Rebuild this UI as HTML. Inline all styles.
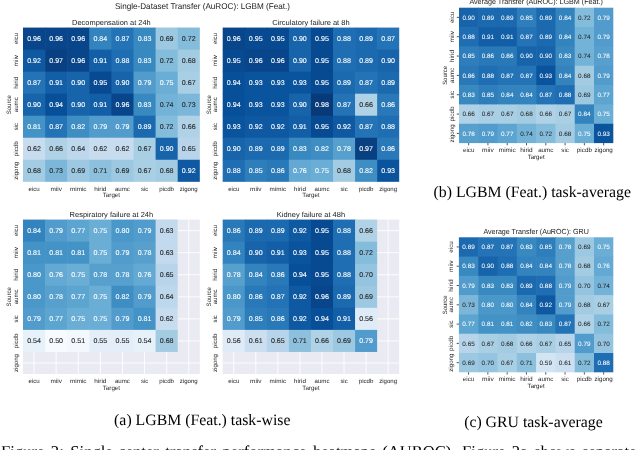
<!DOCTYPE html>
<html><head><meta charset="utf-8"><style>
html,body{margin:0;padding:0;background:#fff;width:640px;height:450px;overflow:hidden}
svg{display:block;will-change:transform}
text{font-family:"Liberation Sans", sans-serif;text-rendering:geometricPrecision}
g text{font-family:"Liberation Serif", serif}
</style></head><body>
<svg width="640" height="450" viewBox="0 0 640 450">
<rect x="23.00" y="27.60" width="176.80" height="154.20" fill="#eaeaf2"/>
<line x1="34.05" y1="27.60" x2="34.05" y2="181.80" stroke="#fff" stroke-width="0.9"/>
<line x1="56.15" y1="27.60" x2="56.15" y2="181.80" stroke="#fff" stroke-width="0.9"/>
<line x1="78.25" y1="27.60" x2="78.25" y2="181.80" stroke="#fff" stroke-width="0.9"/>
<line x1="100.35" y1="27.60" x2="100.35" y2="181.80" stroke="#fff" stroke-width="0.9"/>
<line x1="122.45" y1="27.60" x2="122.45" y2="181.80" stroke="#fff" stroke-width="0.9"/>
<line x1="144.55" y1="27.60" x2="144.55" y2="181.80" stroke="#fff" stroke-width="0.9"/>
<line x1="166.65" y1="27.60" x2="166.65" y2="181.80" stroke="#fff" stroke-width="0.9"/>
<line x1="188.75" y1="27.60" x2="188.75" y2="181.80" stroke="#fff" stroke-width="0.9"/>
<line x1="23.00" y1="38.61" x2="199.80" y2="38.61" stroke="#fff" stroke-width="0.9"/>
<line x1="23.00" y1="60.64" x2="199.80" y2="60.64" stroke="#fff" stroke-width="0.9"/>
<line x1="23.00" y1="82.67" x2="199.80" y2="82.67" stroke="#fff" stroke-width="0.9"/>
<line x1="23.00" y1="104.70" x2="199.80" y2="104.70" stroke="#fff" stroke-width="0.9"/>
<line x1="23.00" y1="126.73" x2="199.80" y2="126.73" stroke="#fff" stroke-width="0.9"/>
<line x1="23.00" y1="148.76" x2="199.80" y2="148.76" stroke="#fff" stroke-width="0.9"/>
<line x1="23.00" y1="170.79" x2="199.80" y2="170.79" stroke="#fff" stroke-width="0.9"/>
<rect x="23.00" y="27.60" width="22.70" height="22.63" fill="#08458a"/>
<rect x="45.10" y="27.60" width="22.70" height="22.63" fill="#08458a"/>
<rect x="67.20" y="27.60" width="22.70" height="22.63" fill="#08458a"/>
<rect x="89.30" y="27.60" width="22.70" height="22.63" fill="#3383be"/>
<rect x="111.40" y="27.60" width="22.70" height="22.63" fill="#2373b6"/>
<rect x="133.50" y="27.60" width="22.70" height="22.63" fill="#3989c1"/>
<rect x="155.60" y="27.60" width="22.70" height="22.63" fill="#9cc9e1"/>
<rect x="177.70" y="27.60" width="22.10" height="22.63" fill="#84bcdb"/>
<rect x="23.00" y="49.63" width="22.70" height="22.63" fill="#0e59a2"/>
<rect x="45.10" y="49.63" width="22.70" height="22.63" fill="#084082"/>
<rect x="67.20" y="49.63" width="22.70" height="22.63" fill="#08458a"/>
<rect x="89.30" y="49.63" width="22.70" height="22.63" fill="#135fa7"/>
<rect x="111.40" y="49.63" width="22.70" height="22.63" fill="#1f6eb3"/>
<rect x="133.50" y="49.63" width="22.70" height="22.63" fill="#3989c1"/>
<rect x="155.60" y="49.63" width="22.70" height="22.63" fill="#84bcdb"/>
<rect x="177.70" y="49.63" width="22.10" height="22.63" fill="#a3cce3"/>
<rect x="23.00" y="71.66" width="22.70" height="22.63" fill="#2373b6"/>
<rect x="45.10" y="71.66" width="22.70" height="22.63" fill="#135fa7"/>
<rect x="67.20" y="71.66" width="22.70" height="22.63" fill="#1764ab"/>
<rect x="89.30" y="71.66" width="22.70" height="22.63" fill="#084a91"/>
<rect x="111.40" y="71.66" width="22.70" height="22.63" fill="#1764ab"/>
<rect x="133.50" y="71.66" width="22.70" height="22.63" fill="#519ccc"/>
<rect x="155.60" y="71.66" width="22.70" height="22.63" fill="#6aaed6"/>
<rect x="177.70" y="71.66" width="22.10" height="22.63" fill="#a9cfe5"/>
<rect x="23.00" y="93.69" width="22.70" height="22.63" fill="#1764ab"/>
<rect x="45.10" y="93.69" width="22.70" height="22.63" fill="#084f99"/>
<rect x="67.20" y="93.69" width="22.70" height="22.63" fill="#1764ab"/>
<rect x="89.30" y="93.69" width="22.70" height="22.63" fill="#135fa7"/>
<rect x="111.40" y="93.69" width="22.70" height="22.63" fill="#08458a"/>
<rect x="133.50" y="93.69" width="22.70" height="22.63" fill="#3989c1"/>
<rect x="155.60" y="93.69" width="22.70" height="22.63" fill="#74b3d8"/>
<rect x="177.70" y="93.69" width="22.10" height="22.63" fill="#7cb7da"/>
<rect x="23.00" y="115.71" width="22.70" height="22.63" fill="#4493c7"/>
<rect x="45.10" y="115.71" width="22.70" height="22.63" fill="#2373b6"/>
<rect x="67.20" y="115.71" width="22.70" height="22.63" fill="#3e8ec4"/>
<rect x="89.30" y="115.71" width="22.70" height="22.63" fill="#519ccc"/>
<rect x="111.40" y="115.71" width="22.70" height="22.63" fill="#519ccc"/>
<rect x="133.50" y="115.71" width="22.70" height="22.63" fill="#1b69af"/>
<rect x="155.60" y="115.71" width="22.70" height="22.63" fill="#84bcdb"/>
<rect x="177.70" y="115.71" width="22.10" height="22.63" fill="#b0d2e7"/>
<rect x="23.00" y="137.74" width="22.70" height="22.63" fill="#c8dcf0"/>
<rect x="45.10" y="137.74" width="22.70" height="22.63" fill="#b0d2e7"/>
<rect x="67.20" y="137.74" width="22.70" height="22.63" fill="#bdd7ec"/>
<rect x="89.30" y="137.74" width="22.70" height="22.63" fill="#c8dcf0"/>
<rect x="111.40" y="137.74" width="22.70" height="22.63" fill="#c8dcf0"/>
<rect x="133.50" y="137.74" width="22.70" height="22.63" fill="#a9cfe5"/>
<rect x="155.60" y="137.74" width="22.70" height="22.63" fill="#1764ab"/>
<rect x="177.70" y="137.74" width="22.10" height="22.63" fill="#b7d4ea"/>
<rect x="23.00" y="159.77" width="22.70" height="22.03" fill="#a3cce3"/>
<rect x="45.10" y="159.77" width="22.70" height="22.03" fill="#7cb7da"/>
<rect x="67.20" y="159.77" width="22.70" height="22.03" fill="#9cc9e1"/>
<rect x="89.30" y="159.77" width="22.70" height="22.03" fill="#8cc0dd"/>
<rect x="111.40" y="159.77" width="22.70" height="22.03" fill="#9cc9e1"/>
<rect x="133.50" y="159.77" width="22.70" height="22.03" fill="#a9cfe5"/>
<rect x="155.60" y="159.77" width="22.70" height="22.03" fill="#a3cce3"/>
<rect x="177.70" y="159.77" width="22.10" height="22.03" fill="#0e59a2"/>
<text x="34.05" y="41.10" font-size="6.94" text-anchor="middle" fill="#ffffff" stroke="#ffffff" stroke-width="0.1" textLength="13.80" lengthAdjust="spacingAndGlyphs">0.96</text>
<text x="56.15" y="41.10" font-size="6.94" text-anchor="middle" fill="#ffffff" stroke="#ffffff" stroke-width="0.1" textLength="13.80" lengthAdjust="spacingAndGlyphs">0.96</text>
<text x="78.25" y="41.10" font-size="6.94" text-anchor="middle" fill="#ffffff" stroke="#ffffff" stroke-width="0.1" textLength="13.80" lengthAdjust="spacingAndGlyphs">0.96</text>
<text x="100.35" y="41.10" font-size="6.94" text-anchor="middle" fill="#ffffff" stroke="#ffffff" stroke-width="0.1" textLength="13.80" lengthAdjust="spacingAndGlyphs">0.84</text>
<text x="122.45" y="41.10" font-size="6.94" text-anchor="middle" fill="#ffffff" stroke="#ffffff" stroke-width="0.1" textLength="13.80" lengthAdjust="spacingAndGlyphs">0.87</text>
<text x="144.55" y="41.10" font-size="6.94" text-anchor="middle" fill="#ffffff" stroke="#ffffff" stroke-width="0.1" textLength="13.80" lengthAdjust="spacingAndGlyphs">0.83</text>
<text x="166.65" y="41.10" font-size="6.94" text-anchor="middle" fill="#262626" stroke="#262626" stroke-width="0.1" textLength="13.80" lengthAdjust="spacingAndGlyphs">0.69</text>
<text x="188.75" y="41.10" font-size="6.94" text-anchor="middle" fill="#262626" stroke="#262626" stroke-width="0.1" textLength="13.80" lengthAdjust="spacingAndGlyphs">0.72</text>
<text x="34.05" y="63.13" font-size="6.94" text-anchor="middle" fill="#ffffff" stroke="#ffffff" stroke-width="0.1" textLength="13.80" lengthAdjust="spacingAndGlyphs">0.92</text>
<text x="56.15" y="63.13" font-size="6.94" text-anchor="middle" fill="#ffffff" stroke="#ffffff" stroke-width="0.1" textLength="13.80" lengthAdjust="spacingAndGlyphs">0.97</text>
<text x="78.25" y="63.13" font-size="6.94" text-anchor="middle" fill="#ffffff" stroke="#ffffff" stroke-width="0.1" textLength="13.80" lengthAdjust="spacingAndGlyphs">0.96</text>
<text x="100.35" y="63.13" font-size="6.94" text-anchor="middle" fill="#ffffff" stroke="#ffffff" stroke-width="0.1" textLength="13.80" lengthAdjust="spacingAndGlyphs">0.91</text>
<text x="122.45" y="63.13" font-size="6.94" text-anchor="middle" fill="#ffffff" stroke="#ffffff" stroke-width="0.1" textLength="13.80" lengthAdjust="spacingAndGlyphs">0.88</text>
<text x="144.55" y="63.13" font-size="6.94" text-anchor="middle" fill="#ffffff" stroke="#ffffff" stroke-width="0.1" textLength="13.80" lengthAdjust="spacingAndGlyphs">0.83</text>
<text x="166.65" y="63.13" font-size="6.94" text-anchor="middle" fill="#262626" stroke="#262626" stroke-width="0.1" textLength="13.80" lengthAdjust="spacingAndGlyphs">0.72</text>
<text x="188.75" y="63.13" font-size="6.94" text-anchor="middle" fill="#262626" stroke="#262626" stroke-width="0.1" textLength="13.80" lengthAdjust="spacingAndGlyphs">0.68</text>
<text x="34.05" y="85.16" font-size="6.94" text-anchor="middle" fill="#ffffff" stroke="#ffffff" stroke-width="0.1" textLength="13.80" lengthAdjust="spacingAndGlyphs">0.87</text>
<text x="56.15" y="85.16" font-size="6.94" text-anchor="middle" fill="#ffffff" stroke="#ffffff" stroke-width="0.1" textLength="13.80" lengthAdjust="spacingAndGlyphs">0.91</text>
<text x="78.25" y="85.16" font-size="6.94" text-anchor="middle" fill="#ffffff" stroke="#ffffff" stroke-width="0.1" textLength="13.80" lengthAdjust="spacingAndGlyphs">0.90</text>
<text x="100.35" y="85.16" font-size="6.94" text-anchor="middle" fill="#ffffff" stroke="#ffffff" stroke-width="0.1" textLength="13.80" lengthAdjust="spacingAndGlyphs">0.95</text>
<text x="122.45" y="85.16" font-size="6.94" text-anchor="middle" fill="#ffffff" stroke="#ffffff" stroke-width="0.1" textLength="13.80" lengthAdjust="spacingAndGlyphs">0.90</text>
<text x="144.55" y="85.16" font-size="6.94" text-anchor="middle" fill="#ffffff" stroke="#ffffff" stroke-width="0.1" textLength="13.80" lengthAdjust="spacingAndGlyphs">0.79</text>
<text x="166.65" y="85.16" font-size="6.94" text-anchor="middle" fill="#ffffff" stroke="#ffffff" stroke-width="0.1" textLength="13.80" lengthAdjust="spacingAndGlyphs">0.75</text>
<text x="188.75" y="85.16" font-size="6.94" text-anchor="middle" fill="#262626" stroke="#262626" stroke-width="0.1" textLength="13.80" lengthAdjust="spacingAndGlyphs">0.67</text>
<text x="34.05" y="107.19" font-size="6.94" text-anchor="middle" fill="#ffffff" stroke="#ffffff" stroke-width="0.1" textLength="13.80" lengthAdjust="spacingAndGlyphs">0.90</text>
<text x="56.15" y="107.19" font-size="6.94" text-anchor="middle" fill="#ffffff" stroke="#ffffff" stroke-width="0.1" textLength="13.80" lengthAdjust="spacingAndGlyphs">0.94</text>
<text x="78.25" y="107.19" font-size="6.94" text-anchor="middle" fill="#ffffff" stroke="#ffffff" stroke-width="0.1" textLength="13.80" lengthAdjust="spacingAndGlyphs">0.90</text>
<text x="100.35" y="107.19" font-size="6.94" text-anchor="middle" fill="#ffffff" stroke="#ffffff" stroke-width="0.1" textLength="13.80" lengthAdjust="spacingAndGlyphs">0.91</text>
<text x="122.45" y="107.19" font-size="6.94" text-anchor="middle" fill="#ffffff" stroke="#ffffff" stroke-width="0.1" textLength="13.80" lengthAdjust="spacingAndGlyphs">0.96</text>
<text x="144.55" y="107.19" font-size="6.94" text-anchor="middle" fill="#ffffff" stroke="#ffffff" stroke-width="0.1" textLength="13.80" lengthAdjust="spacingAndGlyphs">0.83</text>
<text x="166.65" y="107.19" font-size="6.94" text-anchor="middle" fill="#262626" stroke="#262626" stroke-width="0.1" textLength="13.80" lengthAdjust="spacingAndGlyphs">0.74</text>
<text x="188.75" y="107.19" font-size="6.94" text-anchor="middle" fill="#262626" stroke="#262626" stroke-width="0.1" textLength="13.80" lengthAdjust="spacingAndGlyphs">0.73</text>
<text x="34.05" y="129.21" font-size="6.94" text-anchor="middle" fill="#ffffff" stroke="#ffffff" stroke-width="0.1" textLength="13.80" lengthAdjust="spacingAndGlyphs">0.81</text>
<text x="56.15" y="129.21" font-size="6.94" text-anchor="middle" fill="#ffffff" stroke="#ffffff" stroke-width="0.1" textLength="13.80" lengthAdjust="spacingAndGlyphs">0.87</text>
<text x="78.25" y="129.21" font-size="6.94" text-anchor="middle" fill="#ffffff" stroke="#ffffff" stroke-width="0.1" textLength="13.80" lengthAdjust="spacingAndGlyphs">0.82</text>
<text x="100.35" y="129.21" font-size="6.94" text-anchor="middle" fill="#ffffff" stroke="#ffffff" stroke-width="0.1" textLength="13.80" lengthAdjust="spacingAndGlyphs">0.79</text>
<text x="122.45" y="129.21" font-size="6.94" text-anchor="middle" fill="#ffffff" stroke="#ffffff" stroke-width="0.1" textLength="13.80" lengthAdjust="spacingAndGlyphs">0.79</text>
<text x="144.55" y="129.21" font-size="6.94" text-anchor="middle" fill="#ffffff" stroke="#ffffff" stroke-width="0.1" textLength="13.80" lengthAdjust="spacingAndGlyphs">0.89</text>
<text x="166.65" y="129.21" font-size="6.94" text-anchor="middle" fill="#262626" stroke="#262626" stroke-width="0.1" textLength="13.80" lengthAdjust="spacingAndGlyphs">0.72</text>
<text x="188.75" y="129.21" font-size="6.94" text-anchor="middle" fill="#262626" stroke="#262626" stroke-width="0.1" textLength="13.80" lengthAdjust="spacingAndGlyphs">0.66</text>
<text x="34.05" y="151.24" font-size="6.94" text-anchor="middle" fill="#262626" stroke="#262626" stroke-width="0.1" textLength="13.80" lengthAdjust="spacingAndGlyphs">0.62</text>
<text x="56.15" y="151.24" font-size="6.94" text-anchor="middle" fill="#262626" stroke="#262626" stroke-width="0.1" textLength="13.80" lengthAdjust="spacingAndGlyphs">0.66</text>
<text x="78.25" y="151.24" font-size="6.94" text-anchor="middle" fill="#262626" stroke="#262626" stroke-width="0.1" textLength="13.80" lengthAdjust="spacingAndGlyphs">0.64</text>
<text x="100.35" y="151.24" font-size="6.94" text-anchor="middle" fill="#262626" stroke="#262626" stroke-width="0.1" textLength="13.80" lengthAdjust="spacingAndGlyphs">0.62</text>
<text x="122.45" y="151.24" font-size="6.94" text-anchor="middle" fill="#262626" stroke="#262626" stroke-width="0.1" textLength="13.80" lengthAdjust="spacingAndGlyphs">0.62</text>
<text x="144.55" y="151.24" font-size="6.94" text-anchor="middle" fill="#262626" stroke="#262626" stroke-width="0.1" textLength="13.80" lengthAdjust="spacingAndGlyphs">0.67</text>
<text x="166.65" y="151.24" font-size="6.94" text-anchor="middle" fill="#ffffff" stroke="#ffffff" stroke-width="0.1" textLength="13.80" lengthAdjust="spacingAndGlyphs">0.90</text>
<text x="188.75" y="151.24" font-size="6.94" text-anchor="middle" fill="#262626" stroke="#262626" stroke-width="0.1" textLength="13.80" lengthAdjust="spacingAndGlyphs">0.65</text>
<text x="34.05" y="173.27" font-size="6.94" text-anchor="middle" fill="#262626" stroke="#262626" stroke-width="0.1" textLength="13.80" lengthAdjust="spacingAndGlyphs">0.68</text>
<text x="56.15" y="173.27" font-size="6.94" text-anchor="middle" fill="#262626" stroke="#262626" stroke-width="0.1" textLength="13.80" lengthAdjust="spacingAndGlyphs">0.73</text>
<text x="78.25" y="173.27" font-size="6.94" text-anchor="middle" fill="#262626" stroke="#262626" stroke-width="0.1" textLength="13.80" lengthAdjust="spacingAndGlyphs">0.69</text>
<text x="100.35" y="173.27" font-size="6.94" text-anchor="middle" fill="#262626" stroke="#262626" stroke-width="0.1" textLength="13.80" lengthAdjust="spacingAndGlyphs">0.71</text>
<text x="122.45" y="173.27" font-size="6.94" text-anchor="middle" fill="#262626" stroke="#262626" stroke-width="0.1" textLength="13.80" lengthAdjust="spacingAndGlyphs">0.69</text>
<text x="144.55" y="173.27" font-size="6.94" text-anchor="middle" fill="#262626" stroke="#262626" stroke-width="0.1" textLength="13.80" lengthAdjust="spacingAndGlyphs">0.67</text>
<text x="166.65" y="173.27" font-size="6.94" text-anchor="middle" fill="#262626" stroke="#262626" stroke-width="0.1" textLength="13.80" lengthAdjust="spacingAndGlyphs">0.68</text>
<text x="188.75" y="173.27" font-size="6.94" text-anchor="middle" fill="#ffffff" stroke="#ffffff" stroke-width="0.1" textLength="13.80" lengthAdjust="spacingAndGlyphs">0.92</text>
<text x="34.05" y="190.60" font-size="6.05" text-anchor="middle" fill="#262626" textLength="11.21" lengthAdjust="spacingAndGlyphs">eicu</text>
<text x="56.15" y="190.60" font-size="6.05" text-anchor="middle" fill="#262626" textLength="11.46" lengthAdjust="spacingAndGlyphs">miiv</text>
<text x="78.25" y="190.60" font-size="6.05" text-anchor="middle" fill="#262626" textLength="16.49" lengthAdjust="spacingAndGlyphs">mimic</text>
<text x="100.35" y="190.60" font-size="6.05" text-anchor="middle" fill="#262626" textLength="12.07" lengthAdjust="spacingAndGlyphs">hirid</text>
<text x="122.45" y="190.60" font-size="6.05" text-anchor="middle" fill="#262626" textLength="14.96" lengthAdjust="spacingAndGlyphs">aumc</text>
<text x="144.55" y="190.60" font-size="6.05" text-anchor="middle" fill="#262626" textLength="7.28" lengthAdjust="spacingAndGlyphs">sic</text>
<text x="166.65" y="190.60" font-size="6.05" text-anchor="middle" fill="#262626" textLength="14.75" lengthAdjust="spacingAndGlyphs">picdb</text>
<text x="188.75" y="190.60" font-size="6.05" text-anchor="middle" fill="#262626" textLength="17.92" lengthAdjust="spacingAndGlyphs">zigong</text>
<text x="17.80" y="38.61" font-size="6.05" text-anchor="middle" fill="#262626" transform="rotate(-90 17.80 38.61)" textLength="11.21" lengthAdjust="spacingAndGlyphs">eicu</text>
<text x="17.80" y="60.64" font-size="6.05" text-anchor="middle" fill="#262626" transform="rotate(-90 17.80 60.64)" textLength="11.46" lengthAdjust="spacingAndGlyphs">miiv</text>
<text x="17.80" y="82.67" font-size="6.05" text-anchor="middle" fill="#262626" transform="rotate(-90 17.80 82.67)" textLength="12.07" lengthAdjust="spacingAndGlyphs">hirid</text>
<text x="17.80" y="104.70" font-size="6.05" text-anchor="middle" fill="#262626" transform="rotate(-90 17.80 104.70)" textLength="14.96" lengthAdjust="spacingAndGlyphs">aumc</text>
<text x="17.80" y="126.73" font-size="6.05" text-anchor="middle" fill="#262626" transform="rotate(-90 17.80 126.73)" textLength="7.28" lengthAdjust="spacingAndGlyphs">sic</text>
<text x="17.80" y="148.76" font-size="6.05" text-anchor="middle" fill="#262626" transform="rotate(-90 17.80 148.76)" textLength="14.75" lengthAdjust="spacingAndGlyphs">picdb</text>
<text x="17.80" y="170.79" font-size="6.05" text-anchor="middle" fill="#262626" transform="rotate(-90 17.80 170.79)" textLength="17.92" lengthAdjust="spacingAndGlyphs">zigong</text>
<text x="111.40" y="197.30" font-size="6.27" text-anchor="middle" fill="#262626" textLength="17.33" lengthAdjust="spacingAndGlyphs">Target</text>
<text x="11.40" y="104.70" font-size="6.27" text-anchor="middle" fill="#262626" transform="rotate(-90 11.40 104.70)" textLength="19.23" lengthAdjust="spacingAndGlyphs">Source</text>
<text x="111.40" y="24.60" font-size="7.34" text-anchor="middle" fill="#1a1a1a" textLength="78.61" lengthAdjust="spacingAndGlyphs">Decompensation at 24h</text>
<rect x="222.70" y="27.60" width="176.50" height="154.20" fill="#eaeaf2"/>
<line x1="233.73" y1="27.60" x2="233.73" y2="181.80" stroke="#fff" stroke-width="0.9"/>
<line x1="255.79" y1="27.60" x2="255.79" y2="181.80" stroke="#fff" stroke-width="0.9"/>
<line x1="277.86" y1="27.60" x2="277.86" y2="181.80" stroke="#fff" stroke-width="0.9"/>
<line x1="299.92" y1="27.60" x2="299.92" y2="181.80" stroke="#fff" stroke-width="0.9"/>
<line x1="321.98" y1="27.60" x2="321.98" y2="181.80" stroke="#fff" stroke-width="0.9"/>
<line x1="344.04" y1="27.60" x2="344.04" y2="181.80" stroke="#fff" stroke-width="0.9"/>
<line x1="366.11" y1="27.60" x2="366.11" y2="181.80" stroke="#fff" stroke-width="0.9"/>
<line x1="388.17" y1="27.60" x2="388.17" y2="181.80" stroke="#fff" stroke-width="0.9"/>
<line x1="222.70" y1="38.61" x2="399.20" y2="38.61" stroke="#fff" stroke-width="0.9"/>
<line x1="222.70" y1="60.64" x2="399.20" y2="60.64" stroke="#fff" stroke-width="0.9"/>
<line x1="222.70" y1="82.67" x2="399.20" y2="82.67" stroke="#fff" stroke-width="0.9"/>
<line x1="222.70" y1="104.70" x2="399.20" y2="104.70" stroke="#fff" stroke-width="0.9"/>
<line x1="222.70" y1="126.73" x2="399.20" y2="126.73" stroke="#fff" stroke-width="0.9"/>
<line x1="222.70" y1="148.76" x2="399.20" y2="148.76" stroke="#fff" stroke-width="0.9"/>
<line x1="222.70" y1="170.79" x2="399.20" y2="170.79" stroke="#fff" stroke-width="0.9"/>
<rect x="222.70" y="27.60" width="22.66" height="22.63" fill="#08458a"/>
<rect x="244.76" y="27.60" width="22.66" height="22.63" fill="#084a91"/>
<rect x="266.82" y="27.60" width="22.66" height="22.63" fill="#084a91"/>
<rect x="288.89" y="27.60" width="22.66" height="22.63" fill="#1764ab"/>
<rect x="310.95" y="27.60" width="22.66" height="22.63" fill="#084a91"/>
<rect x="333.01" y="27.60" width="22.66" height="22.63" fill="#1f6eb3"/>
<rect x="355.07" y="27.60" width="22.66" height="22.63" fill="#1b69af"/>
<rect x="377.14" y="27.60" width="22.06" height="22.63" fill="#2373b6"/>
<rect x="222.70" y="49.63" width="22.66" height="22.63" fill="#084a91"/>
<rect x="244.76" y="49.63" width="22.66" height="22.63" fill="#08458a"/>
<rect x="266.82" y="49.63" width="22.66" height="22.63" fill="#08458a"/>
<rect x="288.89" y="49.63" width="22.66" height="22.63" fill="#1764ab"/>
<rect x="310.95" y="49.63" width="22.66" height="22.63" fill="#084a91"/>
<rect x="333.01" y="49.63" width="22.66" height="22.63" fill="#1f6eb3"/>
<rect x="355.07" y="49.63" width="22.66" height="22.63" fill="#1b69af"/>
<rect x="377.14" y="49.63" width="22.06" height="22.63" fill="#1764ab"/>
<rect x="222.70" y="71.66" width="22.66" height="22.63" fill="#084f99"/>
<rect x="244.76" y="71.66" width="22.66" height="22.63" fill="#0a549e"/>
<rect x="266.82" y="71.66" width="22.66" height="22.63" fill="#0a549e"/>
<rect x="288.89" y="71.66" width="22.66" height="22.63" fill="#0a549e"/>
<rect x="310.95" y="71.66" width="22.66" height="22.63" fill="#084a91"/>
<rect x="333.01" y="71.66" width="22.66" height="22.63" fill="#1b69af"/>
<rect x="355.07" y="71.66" width="22.66" height="22.63" fill="#2373b6"/>
<rect x="377.14" y="71.66" width="22.06" height="22.63" fill="#1b69af"/>
<rect x="222.70" y="93.69" width="22.66" height="22.63" fill="#084f99"/>
<rect x="244.76" y="93.69" width="22.66" height="22.63" fill="#0a549e"/>
<rect x="266.82" y="93.69" width="22.66" height="22.63" fill="#0a549e"/>
<rect x="288.89" y="93.69" width="22.66" height="22.63" fill="#1764ab"/>
<rect x="310.95" y="93.69" width="22.66" height="22.63" fill="#083a7a"/>
<rect x="333.01" y="93.69" width="22.66" height="22.63" fill="#2373b6"/>
<rect x="355.07" y="93.69" width="22.66" height="22.63" fill="#b0d2e7"/>
<rect x="377.14" y="93.69" width="22.06" height="22.63" fill="#2979b9"/>
<rect x="222.70" y="115.71" width="22.66" height="22.63" fill="#0a549e"/>
<rect x="244.76" y="115.71" width="22.66" height="22.63" fill="#0e59a2"/>
<rect x="266.82" y="115.71" width="22.66" height="22.63" fill="#0e59a2"/>
<rect x="288.89" y="115.71" width="22.66" height="22.63" fill="#135fa7"/>
<rect x="310.95" y="115.71" width="22.66" height="22.63" fill="#084a91"/>
<rect x="333.01" y="115.71" width="22.66" height="22.63" fill="#0e59a2"/>
<rect x="355.07" y="115.71" width="22.66" height="22.63" fill="#2373b6"/>
<rect x="377.14" y="115.71" width="22.06" height="22.63" fill="#1f6eb3"/>
<rect x="222.70" y="137.74" width="22.66" height="22.63" fill="#1764ab"/>
<rect x="244.76" y="137.74" width="22.66" height="22.63" fill="#1b69af"/>
<rect x="266.82" y="137.74" width="22.66" height="22.63" fill="#1b69af"/>
<rect x="288.89" y="137.74" width="22.66" height="22.63" fill="#3989c1"/>
<rect x="310.95" y="137.74" width="22.66" height="22.63" fill="#3e8ec4"/>
<rect x="333.01" y="137.74" width="22.66" height="22.63" fill="#57a0ce"/>
<rect x="355.07" y="137.74" width="22.66" height="22.63" fill="#084082"/>
<rect x="377.14" y="137.74" width="22.06" height="22.63" fill="#2979b9"/>
<rect x="222.70" y="159.77" width="22.66" height="22.03" fill="#1f6eb3"/>
<rect x="244.76" y="159.77" width="22.66" height="22.03" fill="#2e7ebc"/>
<rect x="266.82" y="159.77" width="22.66" height="22.03" fill="#2979b9"/>
<rect x="288.89" y="159.77" width="22.66" height="22.03" fill="#64a9d3"/>
<rect x="310.95" y="159.77" width="22.66" height="22.03" fill="#6aaed6"/>
<rect x="333.01" y="159.77" width="22.66" height="22.03" fill="#a3cce3"/>
<rect x="355.07" y="159.77" width="22.66" height="22.03" fill="#3e8ec4"/>
<rect x="377.14" y="159.77" width="22.06" height="22.03" fill="#0a549e"/>
<text x="233.73" y="41.10" font-size="6.94" text-anchor="middle" fill="#ffffff" stroke="#ffffff" stroke-width="0.1" textLength="13.80" lengthAdjust="spacingAndGlyphs">0.96</text>
<text x="255.79" y="41.10" font-size="6.94" text-anchor="middle" fill="#ffffff" stroke="#ffffff" stroke-width="0.1" textLength="13.80" lengthAdjust="spacingAndGlyphs">0.95</text>
<text x="277.86" y="41.10" font-size="6.94" text-anchor="middle" fill="#ffffff" stroke="#ffffff" stroke-width="0.1" textLength="13.80" lengthAdjust="spacingAndGlyphs">0.95</text>
<text x="299.92" y="41.10" font-size="6.94" text-anchor="middle" fill="#ffffff" stroke="#ffffff" stroke-width="0.1" textLength="13.80" lengthAdjust="spacingAndGlyphs">0.90</text>
<text x="321.98" y="41.10" font-size="6.94" text-anchor="middle" fill="#ffffff" stroke="#ffffff" stroke-width="0.1" textLength="13.80" lengthAdjust="spacingAndGlyphs">0.95</text>
<text x="344.04" y="41.10" font-size="6.94" text-anchor="middle" fill="#ffffff" stroke="#ffffff" stroke-width="0.1" textLength="13.80" lengthAdjust="spacingAndGlyphs">0.88</text>
<text x="366.11" y="41.10" font-size="6.94" text-anchor="middle" fill="#ffffff" stroke="#ffffff" stroke-width="0.1" textLength="13.80" lengthAdjust="spacingAndGlyphs">0.89</text>
<text x="388.17" y="41.10" font-size="6.94" text-anchor="middle" fill="#ffffff" stroke="#ffffff" stroke-width="0.1" textLength="13.80" lengthAdjust="spacingAndGlyphs">0.87</text>
<text x="233.73" y="63.13" font-size="6.94" text-anchor="middle" fill="#ffffff" stroke="#ffffff" stroke-width="0.1" textLength="13.80" lengthAdjust="spacingAndGlyphs">0.95</text>
<text x="255.79" y="63.13" font-size="6.94" text-anchor="middle" fill="#ffffff" stroke="#ffffff" stroke-width="0.1" textLength="13.80" lengthAdjust="spacingAndGlyphs">0.96</text>
<text x="277.86" y="63.13" font-size="6.94" text-anchor="middle" fill="#ffffff" stroke="#ffffff" stroke-width="0.1" textLength="13.80" lengthAdjust="spacingAndGlyphs">0.96</text>
<text x="299.92" y="63.13" font-size="6.94" text-anchor="middle" fill="#ffffff" stroke="#ffffff" stroke-width="0.1" textLength="13.80" lengthAdjust="spacingAndGlyphs">0.90</text>
<text x="321.98" y="63.13" font-size="6.94" text-anchor="middle" fill="#ffffff" stroke="#ffffff" stroke-width="0.1" textLength="13.80" lengthAdjust="spacingAndGlyphs">0.95</text>
<text x="344.04" y="63.13" font-size="6.94" text-anchor="middle" fill="#ffffff" stroke="#ffffff" stroke-width="0.1" textLength="13.80" lengthAdjust="spacingAndGlyphs">0.88</text>
<text x="366.11" y="63.13" font-size="6.94" text-anchor="middle" fill="#ffffff" stroke="#ffffff" stroke-width="0.1" textLength="13.80" lengthAdjust="spacingAndGlyphs">0.89</text>
<text x="388.17" y="63.13" font-size="6.94" text-anchor="middle" fill="#ffffff" stroke="#ffffff" stroke-width="0.1" textLength="13.80" lengthAdjust="spacingAndGlyphs">0.90</text>
<text x="233.73" y="85.16" font-size="6.94" text-anchor="middle" fill="#ffffff" stroke="#ffffff" stroke-width="0.1" textLength="13.80" lengthAdjust="spacingAndGlyphs">0.94</text>
<text x="255.79" y="85.16" font-size="6.94" text-anchor="middle" fill="#ffffff" stroke="#ffffff" stroke-width="0.1" textLength="13.80" lengthAdjust="spacingAndGlyphs">0.93</text>
<text x="277.86" y="85.16" font-size="6.94" text-anchor="middle" fill="#ffffff" stroke="#ffffff" stroke-width="0.1" textLength="13.80" lengthAdjust="spacingAndGlyphs">0.93</text>
<text x="299.92" y="85.16" font-size="6.94" text-anchor="middle" fill="#ffffff" stroke="#ffffff" stroke-width="0.1" textLength="13.80" lengthAdjust="spacingAndGlyphs">0.93</text>
<text x="321.98" y="85.16" font-size="6.94" text-anchor="middle" fill="#ffffff" stroke="#ffffff" stroke-width="0.1" textLength="13.80" lengthAdjust="spacingAndGlyphs">0.95</text>
<text x="344.04" y="85.16" font-size="6.94" text-anchor="middle" fill="#ffffff" stroke="#ffffff" stroke-width="0.1" textLength="13.80" lengthAdjust="spacingAndGlyphs">0.89</text>
<text x="366.11" y="85.16" font-size="6.94" text-anchor="middle" fill="#ffffff" stroke="#ffffff" stroke-width="0.1" textLength="13.80" lengthAdjust="spacingAndGlyphs">0.87</text>
<text x="388.17" y="85.16" font-size="6.94" text-anchor="middle" fill="#ffffff" stroke="#ffffff" stroke-width="0.1" textLength="13.80" lengthAdjust="spacingAndGlyphs">0.89</text>
<text x="233.73" y="107.19" font-size="6.94" text-anchor="middle" fill="#ffffff" stroke="#ffffff" stroke-width="0.1" textLength="13.80" lengthAdjust="spacingAndGlyphs">0.94</text>
<text x="255.79" y="107.19" font-size="6.94" text-anchor="middle" fill="#ffffff" stroke="#ffffff" stroke-width="0.1" textLength="13.80" lengthAdjust="spacingAndGlyphs">0.93</text>
<text x="277.86" y="107.19" font-size="6.94" text-anchor="middle" fill="#ffffff" stroke="#ffffff" stroke-width="0.1" textLength="13.80" lengthAdjust="spacingAndGlyphs">0.93</text>
<text x="299.92" y="107.19" font-size="6.94" text-anchor="middle" fill="#ffffff" stroke="#ffffff" stroke-width="0.1" textLength="13.80" lengthAdjust="spacingAndGlyphs">0.90</text>
<text x="321.98" y="107.19" font-size="6.94" text-anchor="middle" fill="#ffffff" stroke="#ffffff" stroke-width="0.1" textLength="13.80" lengthAdjust="spacingAndGlyphs">0.98</text>
<text x="344.04" y="107.19" font-size="6.94" text-anchor="middle" fill="#ffffff" stroke="#ffffff" stroke-width="0.1" textLength="13.80" lengthAdjust="spacingAndGlyphs">0.87</text>
<text x="366.11" y="107.19" font-size="6.94" text-anchor="middle" fill="#262626" stroke="#262626" stroke-width="0.1" textLength="13.80" lengthAdjust="spacingAndGlyphs">0.66</text>
<text x="388.17" y="107.19" font-size="6.94" text-anchor="middle" fill="#ffffff" stroke="#ffffff" stroke-width="0.1" textLength="13.80" lengthAdjust="spacingAndGlyphs">0.86</text>
<text x="233.73" y="129.21" font-size="6.94" text-anchor="middle" fill="#ffffff" stroke="#ffffff" stroke-width="0.1" textLength="13.80" lengthAdjust="spacingAndGlyphs">0.93</text>
<text x="255.79" y="129.21" font-size="6.94" text-anchor="middle" fill="#ffffff" stroke="#ffffff" stroke-width="0.1" textLength="13.80" lengthAdjust="spacingAndGlyphs">0.92</text>
<text x="277.86" y="129.21" font-size="6.94" text-anchor="middle" fill="#ffffff" stroke="#ffffff" stroke-width="0.1" textLength="13.80" lengthAdjust="spacingAndGlyphs">0.92</text>
<text x="299.92" y="129.21" font-size="6.94" text-anchor="middle" fill="#ffffff" stroke="#ffffff" stroke-width="0.1" textLength="13.80" lengthAdjust="spacingAndGlyphs">0.91</text>
<text x="321.98" y="129.21" font-size="6.94" text-anchor="middle" fill="#ffffff" stroke="#ffffff" stroke-width="0.1" textLength="13.80" lengthAdjust="spacingAndGlyphs">0.95</text>
<text x="344.04" y="129.21" font-size="6.94" text-anchor="middle" fill="#ffffff" stroke="#ffffff" stroke-width="0.1" textLength="13.80" lengthAdjust="spacingAndGlyphs">0.92</text>
<text x="366.11" y="129.21" font-size="6.94" text-anchor="middle" fill="#ffffff" stroke="#ffffff" stroke-width="0.1" textLength="13.80" lengthAdjust="spacingAndGlyphs">0.87</text>
<text x="388.17" y="129.21" font-size="6.94" text-anchor="middle" fill="#ffffff" stroke="#ffffff" stroke-width="0.1" textLength="13.80" lengthAdjust="spacingAndGlyphs">0.88</text>
<text x="233.73" y="151.24" font-size="6.94" text-anchor="middle" fill="#ffffff" stroke="#ffffff" stroke-width="0.1" textLength="13.80" lengthAdjust="spacingAndGlyphs">0.90</text>
<text x="255.79" y="151.24" font-size="6.94" text-anchor="middle" fill="#ffffff" stroke="#ffffff" stroke-width="0.1" textLength="13.80" lengthAdjust="spacingAndGlyphs">0.89</text>
<text x="277.86" y="151.24" font-size="6.94" text-anchor="middle" fill="#ffffff" stroke="#ffffff" stroke-width="0.1" textLength="13.80" lengthAdjust="spacingAndGlyphs">0.89</text>
<text x="299.92" y="151.24" font-size="6.94" text-anchor="middle" fill="#ffffff" stroke="#ffffff" stroke-width="0.1" textLength="13.80" lengthAdjust="spacingAndGlyphs">0.83</text>
<text x="321.98" y="151.24" font-size="6.94" text-anchor="middle" fill="#ffffff" stroke="#ffffff" stroke-width="0.1" textLength="13.80" lengthAdjust="spacingAndGlyphs">0.82</text>
<text x="344.04" y="151.24" font-size="6.94" text-anchor="middle" fill="#ffffff" stroke="#ffffff" stroke-width="0.1" textLength="13.80" lengthAdjust="spacingAndGlyphs">0.78</text>
<text x="366.11" y="151.24" font-size="6.94" text-anchor="middle" fill="#ffffff" stroke="#ffffff" stroke-width="0.1" textLength="13.80" lengthAdjust="spacingAndGlyphs">0.97</text>
<text x="388.17" y="151.24" font-size="6.94" text-anchor="middle" fill="#ffffff" stroke="#ffffff" stroke-width="0.1" textLength="13.80" lengthAdjust="spacingAndGlyphs">0.86</text>
<text x="233.73" y="173.27" font-size="6.94" text-anchor="middle" fill="#ffffff" stroke="#ffffff" stroke-width="0.1" textLength="13.80" lengthAdjust="spacingAndGlyphs">0.88</text>
<text x="255.79" y="173.27" font-size="6.94" text-anchor="middle" fill="#ffffff" stroke="#ffffff" stroke-width="0.1" textLength="13.80" lengthAdjust="spacingAndGlyphs">0.85</text>
<text x="277.86" y="173.27" font-size="6.94" text-anchor="middle" fill="#ffffff" stroke="#ffffff" stroke-width="0.1" textLength="13.80" lengthAdjust="spacingAndGlyphs">0.86</text>
<text x="299.92" y="173.27" font-size="6.94" text-anchor="middle" fill="#ffffff" stroke="#ffffff" stroke-width="0.1" textLength="13.80" lengthAdjust="spacingAndGlyphs">0.76</text>
<text x="321.98" y="173.27" font-size="6.94" text-anchor="middle" fill="#ffffff" stroke="#ffffff" stroke-width="0.1" textLength="13.80" lengthAdjust="spacingAndGlyphs">0.75</text>
<text x="344.04" y="173.27" font-size="6.94" text-anchor="middle" fill="#262626" stroke="#262626" stroke-width="0.1" textLength="13.80" lengthAdjust="spacingAndGlyphs">0.68</text>
<text x="366.11" y="173.27" font-size="6.94" text-anchor="middle" fill="#ffffff" stroke="#ffffff" stroke-width="0.1" textLength="13.80" lengthAdjust="spacingAndGlyphs">0.82</text>
<text x="388.17" y="173.27" font-size="6.94" text-anchor="middle" fill="#ffffff" stroke="#ffffff" stroke-width="0.1" textLength="13.80" lengthAdjust="spacingAndGlyphs">0.93</text>
<text x="233.73" y="190.60" font-size="6.05" text-anchor="middle" fill="#262626" textLength="11.21" lengthAdjust="spacingAndGlyphs">eicu</text>
<text x="255.79" y="190.60" font-size="6.05" text-anchor="middle" fill="#262626" textLength="11.46" lengthAdjust="spacingAndGlyphs">miiv</text>
<text x="277.86" y="190.60" font-size="6.05" text-anchor="middle" fill="#262626" textLength="16.49" lengthAdjust="spacingAndGlyphs">mimic</text>
<text x="299.92" y="190.60" font-size="6.05" text-anchor="middle" fill="#262626" textLength="12.07" lengthAdjust="spacingAndGlyphs">hirid</text>
<text x="321.98" y="190.60" font-size="6.05" text-anchor="middle" fill="#262626" textLength="14.96" lengthAdjust="spacingAndGlyphs">aumc</text>
<text x="344.04" y="190.60" font-size="6.05" text-anchor="middle" fill="#262626" textLength="7.28" lengthAdjust="spacingAndGlyphs">sic</text>
<text x="366.11" y="190.60" font-size="6.05" text-anchor="middle" fill="#262626" textLength="14.75" lengthAdjust="spacingAndGlyphs">picdb</text>
<text x="388.17" y="190.60" font-size="6.05" text-anchor="middle" fill="#262626" textLength="17.92" lengthAdjust="spacingAndGlyphs">zigong</text>
<text x="217.50" y="38.61" font-size="6.05" text-anchor="middle" fill="#262626" transform="rotate(-90 217.50 38.61)" textLength="11.21" lengthAdjust="spacingAndGlyphs">eicu</text>
<text x="217.50" y="60.64" font-size="6.05" text-anchor="middle" fill="#262626" transform="rotate(-90 217.50 60.64)" textLength="11.46" lengthAdjust="spacingAndGlyphs">miiv</text>
<text x="217.50" y="82.67" font-size="6.05" text-anchor="middle" fill="#262626" transform="rotate(-90 217.50 82.67)" textLength="12.07" lengthAdjust="spacingAndGlyphs">hirid</text>
<text x="217.50" y="104.70" font-size="6.05" text-anchor="middle" fill="#262626" transform="rotate(-90 217.50 104.70)" textLength="14.96" lengthAdjust="spacingAndGlyphs">aumc</text>
<text x="217.50" y="126.73" font-size="6.05" text-anchor="middle" fill="#262626" transform="rotate(-90 217.50 126.73)" textLength="7.28" lengthAdjust="spacingAndGlyphs">sic</text>
<text x="217.50" y="148.76" font-size="6.05" text-anchor="middle" fill="#262626" transform="rotate(-90 217.50 148.76)" textLength="14.75" lengthAdjust="spacingAndGlyphs">picdb</text>
<text x="217.50" y="170.79" font-size="6.05" text-anchor="middle" fill="#262626" transform="rotate(-90 217.50 170.79)" textLength="17.92" lengthAdjust="spacingAndGlyphs">zigong</text>
<text x="310.95" y="197.30" font-size="6.27" text-anchor="middle" fill="#262626" textLength="17.33" lengthAdjust="spacingAndGlyphs">Target</text>
<text x="211.10" y="104.70" font-size="6.27" text-anchor="middle" fill="#262626" transform="rotate(-90 211.10 104.70)" textLength="19.23" lengthAdjust="spacingAndGlyphs">Source</text>
<text x="310.95" y="24.60" font-size="7.34" text-anchor="middle" fill="#1a1a1a" textLength="77.51" lengthAdjust="spacingAndGlyphs">Circulatory failure at 8h</text>
<rect x="23.00" y="219.60" width="176.80" height="154.40" fill="#eaeaf2"/>
<line x1="34.05" y1="219.60" x2="34.05" y2="374.00" stroke="#fff" stroke-width="0.9"/>
<line x1="56.15" y1="219.60" x2="56.15" y2="374.00" stroke="#fff" stroke-width="0.9"/>
<line x1="78.25" y1="219.60" x2="78.25" y2="374.00" stroke="#fff" stroke-width="0.9"/>
<line x1="100.35" y1="219.60" x2="100.35" y2="374.00" stroke="#fff" stroke-width="0.9"/>
<line x1="122.45" y1="219.60" x2="122.45" y2="374.00" stroke="#fff" stroke-width="0.9"/>
<line x1="144.55" y1="219.60" x2="144.55" y2="374.00" stroke="#fff" stroke-width="0.9"/>
<line x1="166.65" y1="219.60" x2="166.65" y2="374.00" stroke="#fff" stroke-width="0.9"/>
<line x1="188.75" y1="219.60" x2="188.75" y2="374.00" stroke="#fff" stroke-width="0.9"/>
<line x1="23.00" y1="230.63" x2="199.80" y2="230.63" stroke="#fff" stroke-width="0.9"/>
<line x1="23.00" y1="252.69" x2="199.80" y2="252.69" stroke="#fff" stroke-width="0.9"/>
<line x1="23.00" y1="274.74" x2="199.80" y2="274.74" stroke="#fff" stroke-width="0.9"/>
<line x1="23.00" y1="296.80" x2="199.80" y2="296.80" stroke="#fff" stroke-width="0.9"/>
<line x1="23.00" y1="318.86" x2="199.80" y2="318.86" stroke="#fff" stroke-width="0.9"/>
<line x1="23.00" y1="340.91" x2="199.80" y2="340.91" stroke="#fff" stroke-width="0.9"/>
<line x1="23.00" y1="362.97" x2="199.80" y2="362.97" stroke="#fff" stroke-width="0.9"/>
<rect x="23.00" y="219.60" width="22.70" height="22.66" fill="#3383be"/>
<rect x="45.10" y="219.60" width="22.70" height="22.66" fill="#519ccc"/>
<rect x="67.20" y="219.60" width="22.70" height="22.66" fill="#5da5d1"/>
<rect x="89.30" y="219.60" width="22.70" height="22.66" fill="#6aaed6"/>
<rect x="111.40" y="219.60" width="22.70" height="22.66" fill="#4a98c9"/>
<rect x="133.50" y="219.60" width="22.70" height="22.66" fill="#519ccc"/>
<rect x="155.60" y="219.60" width="22.10" height="22.66" fill="#c3daee"/>
<rect x="23.00" y="241.66" width="22.70" height="22.66" fill="#4493c7"/>
<rect x="45.10" y="241.66" width="22.70" height="22.66" fill="#4493c7"/>
<rect x="67.20" y="241.66" width="22.70" height="22.66" fill="#4493c7"/>
<rect x="89.30" y="241.66" width="22.70" height="22.66" fill="#6aaed6"/>
<rect x="111.40" y="241.66" width="22.70" height="22.66" fill="#519ccc"/>
<rect x="133.50" y="241.66" width="22.70" height="22.66" fill="#57a0ce"/>
<rect x="155.60" y="241.66" width="22.10" height="22.66" fill="#c3daee"/>
<rect x="23.00" y="263.71" width="22.70" height="22.66" fill="#4a98c9"/>
<rect x="45.10" y="263.71" width="22.70" height="22.66" fill="#64a9d3"/>
<rect x="67.20" y="263.71" width="22.70" height="22.66" fill="#6aaed6"/>
<rect x="89.30" y="263.71" width="22.70" height="22.66" fill="#57a0ce"/>
<rect x="111.40" y="263.71" width="22.70" height="22.66" fill="#57a0ce"/>
<rect x="133.50" y="263.71" width="22.70" height="22.66" fill="#64a9d3"/>
<rect x="155.60" y="263.71" width="22.10" height="22.66" fill="#b7d4ea"/>
<rect x="23.00" y="285.77" width="22.70" height="22.66" fill="#4a98c9"/>
<rect x="45.10" y="285.77" width="22.70" height="22.66" fill="#57a0ce"/>
<rect x="67.20" y="285.77" width="22.70" height="22.66" fill="#5da5d1"/>
<rect x="89.30" y="285.77" width="22.70" height="22.66" fill="#6aaed6"/>
<rect x="111.40" y="285.77" width="22.70" height="22.66" fill="#3e8ec4"/>
<rect x="133.50" y="285.77" width="22.70" height="22.66" fill="#519ccc"/>
<rect x="155.60" y="285.77" width="22.10" height="22.66" fill="#bdd7ec"/>
<rect x="23.00" y="307.83" width="22.70" height="22.66" fill="#519ccc"/>
<rect x="45.10" y="307.83" width="22.70" height="22.66" fill="#5da5d1"/>
<rect x="67.20" y="307.83" width="22.70" height="22.66" fill="#6aaed6"/>
<rect x="89.30" y="307.83" width="22.70" height="22.66" fill="#6aaed6"/>
<rect x="111.40" y="307.83" width="22.70" height="22.66" fill="#519ccc"/>
<rect x="133.50" y="307.83" width="22.70" height="22.66" fill="#4493c7"/>
<rect x="155.60" y="307.83" width="22.10" height="22.66" fill="#c8dcf0"/>
<rect x="23.00" y="329.89" width="22.70" height="22.06" fill="#e7f1fa"/>
<rect x="45.10" y="329.89" width="22.70" height="22.06" fill="#f7fbff"/>
<rect x="67.20" y="329.89" width="22.70" height="22.06" fill="#f3f8fe"/>
<rect x="89.30" y="329.89" width="22.70" height="22.06" fill="#e3eef9"/>
<rect x="111.40" y="329.89" width="22.70" height="22.06" fill="#e3eef9"/>
<rect x="133.50" y="329.89" width="22.70" height="22.06" fill="#e7f1fa"/>
<rect x="155.60" y="329.89" width="22.10" height="22.06" fill="#a3cce3"/>
<text x="34.05" y="233.11" font-size="6.94" text-anchor="middle" fill="#ffffff" stroke="#ffffff" stroke-width="0.1" textLength="13.80" lengthAdjust="spacingAndGlyphs">0.84</text>
<text x="56.15" y="233.11" font-size="6.94" text-anchor="middle" fill="#ffffff" stroke="#ffffff" stroke-width="0.1" textLength="13.80" lengthAdjust="spacingAndGlyphs">0.79</text>
<text x="78.25" y="233.11" font-size="6.94" text-anchor="middle" fill="#ffffff" stroke="#ffffff" stroke-width="0.1" textLength="13.80" lengthAdjust="spacingAndGlyphs">0.77</text>
<text x="100.35" y="233.11" font-size="6.94" text-anchor="middle" fill="#ffffff" stroke="#ffffff" stroke-width="0.1" textLength="13.80" lengthAdjust="spacingAndGlyphs">0.75</text>
<text x="122.45" y="233.11" font-size="6.94" text-anchor="middle" fill="#ffffff" stroke="#ffffff" stroke-width="0.1" textLength="13.80" lengthAdjust="spacingAndGlyphs">0.80</text>
<text x="144.55" y="233.11" font-size="6.94" text-anchor="middle" fill="#ffffff" stroke="#ffffff" stroke-width="0.1" textLength="13.80" lengthAdjust="spacingAndGlyphs">0.79</text>
<text x="166.65" y="233.11" font-size="6.94" text-anchor="middle" fill="#262626" stroke="#262626" stroke-width="0.1" textLength="13.80" lengthAdjust="spacingAndGlyphs">0.63</text>
<text x="34.05" y="255.17" font-size="6.94" text-anchor="middle" fill="#ffffff" stroke="#ffffff" stroke-width="0.1" textLength="13.80" lengthAdjust="spacingAndGlyphs">0.81</text>
<text x="56.15" y="255.17" font-size="6.94" text-anchor="middle" fill="#ffffff" stroke="#ffffff" stroke-width="0.1" textLength="13.80" lengthAdjust="spacingAndGlyphs">0.81</text>
<text x="78.25" y="255.17" font-size="6.94" text-anchor="middle" fill="#ffffff" stroke="#ffffff" stroke-width="0.1" textLength="13.80" lengthAdjust="spacingAndGlyphs">0.81</text>
<text x="100.35" y="255.17" font-size="6.94" text-anchor="middle" fill="#ffffff" stroke="#ffffff" stroke-width="0.1" textLength="13.80" lengthAdjust="spacingAndGlyphs">0.75</text>
<text x="122.45" y="255.17" font-size="6.94" text-anchor="middle" fill="#ffffff" stroke="#ffffff" stroke-width="0.1" textLength="13.80" lengthAdjust="spacingAndGlyphs">0.79</text>
<text x="144.55" y="255.17" font-size="6.94" text-anchor="middle" fill="#ffffff" stroke="#ffffff" stroke-width="0.1" textLength="13.80" lengthAdjust="spacingAndGlyphs">0.78</text>
<text x="166.65" y="255.17" font-size="6.94" text-anchor="middle" fill="#262626" stroke="#262626" stroke-width="0.1" textLength="13.80" lengthAdjust="spacingAndGlyphs">0.63</text>
<text x="34.05" y="277.23" font-size="6.94" text-anchor="middle" fill="#ffffff" stroke="#ffffff" stroke-width="0.1" textLength="13.80" lengthAdjust="spacingAndGlyphs">0.80</text>
<text x="56.15" y="277.23" font-size="6.94" text-anchor="middle" fill="#ffffff" stroke="#ffffff" stroke-width="0.1" textLength="13.80" lengthAdjust="spacingAndGlyphs">0.76</text>
<text x="78.25" y="277.23" font-size="6.94" text-anchor="middle" fill="#ffffff" stroke="#ffffff" stroke-width="0.1" textLength="13.80" lengthAdjust="spacingAndGlyphs">0.75</text>
<text x="100.35" y="277.23" font-size="6.94" text-anchor="middle" fill="#ffffff" stroke="#ffffff" stroke-width="0.1" textLength="13.80" lengthAdjust="spacingAndGlyphs">0.78</text>
<text x="122.45" y="277.23" font-size="6.94" text-anchor="middle" fill="#ffffff" stroke="#ffffff" stroke-width="0.1" textLength="13.80" lengthAdjust="spacingAndGlyphs">0.78</text>
<text x="144.55" y="277.23" font-size="6.94" text-anchor="middle" fill="#ffffff" stroke="#ffffff" stroke-width="0.1" textLength="13.80" lengthAdjust="spacingAndGlyphs">0.76</text>
<text x="166.65" y="277.23" font-size="6.94" text-anchor="middle" fill="#262626" stroke="#262626" stroke-width="0.1" textLength="13.80" lengthAdjust="spacingAndGlyphs">0.65</text>
<text x="34.05" y="299.29" font-size="6.94" text-anchor="middle" fill="#ffffff" stroke="#ffffff" stroke-width="0.1" textLength="13.80" lengthAdjust="spacingAndGlyphs">0.80</text>
<text x="56.15" y="299.29" font-size="6.94" text-anchor="middle" fill="#ffffff" stroke="#ffffff" stroke-width="0.1" textLength="13.80" lengthAdjust="spacingAndGlyphs">0.78</text>
<text x="78.25" y="299.29" font-size="6.94" text-anchor="middle" fill="#ffffff" stroke="#ffffff" stroke-width="0.1" textLength="13.80" lengthAdjust="spacingAndGlyphs">0.77</text>
<text x="100.35" y="299.29" font-size="6.94" text-anchor="middle" fill="#ffffff" stroke="#ffffff" stroke-width="0.1" textLength="13.80" lengthAdjust="spacingAndGlyphs">0.75</text>
<text x="122.45" y="299.29" font-size="6.94" text-anchor="middle" fill="#ffffff" stroke="#ffffff" stroke-width="0.1" textLength="13.80" lengthAdjust="spacingAndGlyphs">0.82</text>
<text x="144.55" y="299.29" font-size="6.94" text-anchor="middle" fill="#ffffff" stroke="#ffffff" stroke-width="0.1" textLength="13.80" lengthAdjust="spacingAndGlyphs">0.79</text>
<text x="166.65" y="299.29" font-size="6.94" text-anchor="middle" fill="#262626" stroke="#262626" stroke-width="0.1" textLength="13.80" lengthAdjust="spacingAndGlyphs">0.64</text>
<text x="34.05" y="321.34" font-size="6.94" text-anchor="middle" fill="#ffffff" stroke="#ffffff" stroke-width="0.1" textLength="13.80" lengthAdjust="spacingAndGlyphs">0.79</text>
<text x="56.15" y="321.34" font-size="6.94" text-anchor="middle" fill="#ffffff" stroke="#ffffff" stroke-width="0.1" textLength="13.80" lengthAdjust="spacingAndGlyphs">0.77</text>
<text x="78.25" y="321.34" font-size="6.94" text-anchor="middle" fill="#ffffff" stroke="#ffffff" stroke-width="0.1" textLength="13.80" lengthAdjust="spacingAndGlyphs">0.75</text>
<text x="100.35" y="321.34" font-size="6.94" text-anchor="middle" fill="#ffffff" stroke="#ffffff" stroke-width="0.1" textLength="13.80" lengthAdjust="spacingAndGlyphs">0.75</text>
<text x="122.45" y="321.34" font-size="6.94" text-anchor="middle" fill="#ffffff" stroke="#ffffff" stroke-width="0.1" textLength="13.80" lengthAdjust="spacingAndGlyphs">0.79</text>
<text x="144.55" y="321.34" font-size="6.94" text-anchor="middle" fill="#ffffff" stroke="#ffffff" stroke-width="0.1" textLength="13.80" lengthAdjust="spacingAndGlyphs">0.81</text>
<text x="166.65" y="321.34" font-size="6.94" text-anchor="middle" fill="#262626" stroke="#262626" stroke-width="0.1" textLength="13.80" lengthAdjust="spacingAndGlyphs">0.62</text>
<text x="34.05" y="343.40" font-size="6.94" text-anchor="middle" fill="#262626" stroke="#262626" stroke-width="0.1" textLength="13.80" lengthAdjust="spacingAndGlyphs">0.54</text>
<text x="56.15" y="343.40" font-size="6.94" text-anchor="middle" fill="#262626" stroke="#262626" stroke-width="0.1" textLength="13.80" lengthAdjust="spacingAndGlyphs">0.50</text>
<text x="78.25" y="343.40" font-size="6.94" text-anchor="middle" fill="#262626" stroke="#262626" stroke-width="0.1" textLength="13.80" lengthAdjust="spacingAndGlyphs">0.51</text>
<text x="100.35" y="343.40" font-size="6.94" text-anchor="middle" fill="#262626" stroke="#262626" stroke-width="0.1" textLength="13.80" lengthAdjust="spacingAndGlyphs">0.55</text>
<text x="122.45" y="343.40" font-size="6.94" text-anchor="middle" fill="#262626" stroke="#262626" stroke-width="0.1" textLength="13.80" lengthAdjust="spacingAndGlyphs">0.55</text>
<text x="144.55" y="343.40" font-size="6.94" text-anchor="middle" fill="#262626" stroke="#262626" stroke-width="0.1" textLength="13.80" lengthAdjust="spacingAndGlyphs">0.54</text>
<text x="166.65" y="343.40" font-size="6.94" text-anchor="middle" fill="#262626" stroke="#262626" stroke-width="0.1" textLength="13.80" lengthAdjust="spacingAndGlyphs">0.68</text>
<text x="34.05" y="382.80" font-size="6.05" text-anchor="middle" fill="#262626" textLength="11.21" lengthAdjust="spacingAndGlyphs">eicu</text>
<text x="56.15" y="382.80" font-size="6.05" text-anchor="middle" fill="#262626" textLength="11.46" lengthAdjust="spacingAndGlyphs">miiv</text>
<text x="78.25" y="382.80" font-size="6.05" text-anchor="middle" fill="#262626" textLength="16.49" lengthAdjust="spacingAndGlyphs">mimic</text>
<text x="100.35" y="382.80" font-size="6.05" text-anchor="middle" fill="#262626" textLength="12.07" lengthAdjust="spacingAndGlyphs">hirid</text>
<text x="122.45" y="382.80" font-size="6.05" text-anchor="middle" fill="#262626" textLength="14.96" lengthAdjust="spacingAndGlyphs">aumc</text>
<text x="144.55" y="382.80" font-size="6.05" text-anchor="middle" fill="#262626" textLength="7.28" lengthAdjust="spacingAndGlyphs">sic</text>
<text x="166.65" y="382.80" font-size="6.05" text-anchor="middle" fill="#262626" textLength="14.75" lengthAdjust="spacingAndGlyphs">picdb</text>
<text x="188.75" y="382.80" font-size="6.05" text-anchor="middle" fill="#262626" textLength="17.92" lengthAdjust="spacingAndGlyphs">zigong</text>
<text x="17.80" y="230.63" font-size="6.05" text-anchor="middle" fill="#262626" transform="rotate(-90 17.80 230.63)" textLength="11.21" lengthAdjust="spacingAndGlyphs">eicu</text>
<text x="17.80" y="252.69" font-size="6.05" text-anchor="middle" fill="#262626" transform="rotate(-90 17.80 252.69)" textLength="11.46" lengthAdjust="spacingAndGlyphs">miiv</text>
<text x="17.80" y="274.74" font-size="6.05" text-anchor="middle" fill="#262626" transform="rotate(-90 17.80 274.74)" textLength="12.07" lengthAdjust="spacingAndGlyphs">hirid</text>
<text x="17.80" y="296.80" font-size="6.05" text-anchor="middle" fill="#262626" transform="rotate(-90 17.80 296.80)" textLength="14.96" lengthAdjust="spacingAndGlyphs">aumc</text>
<text x="17.80" y="318.86" font-size="6.05" text-anchor="middle" fill="#262626" transform="rotate(-90 17.80 318.86)" textLength="7.28" lengthAdjust="spacingAndGlyphs">sic</text>
<text x="17.80" y="340.91" font-size="6.05" text-anchor="middle" fill="#262626" transform="rotate(-90 17.80 340.91)" textLength="14.75" lengthAdjust="spacingAndGlyphs">picdb</text>
<text x="17.80" y="362.97" font-size="6.05" text-anchor="middle" fill="#262626" transform="rotate(-90 17.80 362.97)" textLength="17.92" lengthAdjust="spacingAndGlyphs">zigong</text>
<text x="111.40" y="389.50" font-size="6.27" text-anchor="middle" fill="#262626" textLength="17.33" lengthAdjust="spacingAndGlyphs">Target</text>
<text x="11.40" y="296.80" font-size="6.27" text-anchor="middle" fill="#262626" transform="rotate(-90 11.40 296.80)" textLength="19.23" lengthAdjust="spacingAndGlyphs">Source</text>
<text x="111.40" y="216.60" font-size="7.34" text-anchor="middle" fill="#1a1a1a" textLength="83.53" lengthAdjust="spacingAndGlyphs">Respiratory failure at 24h</text>
<rect x="222.70" y="219.60" width="176.50" height="154.40" fill="#eaeaf2"/>
<line x1="233.73" y1="219.60" x2="233.73" y2="374.00" stroke="#fff" stroke-width="0.9"/>
<line x1="255.79" y1="219.60" x2="255.79" y2="374.00" stroke="#fff" stroke-width="0.9"/>
<line x1="277.86" y1="219.60" x2="277.86" y2="374.00" stroke="#fff" stroke-width="0.9"/>
<line x1="299.92" y1="219.60" x2="299.92" y2="374.00" stroke="#fff" stroke-width="0.9"/>
<line x1="321.98" y1="219.60" x2="321.98" y2="374.00" stroke="#fff" stroke-width="0.9"/>
<line x1="344.04" y1="219.60" x2="344.04" y2="374.00" stroke="#fff" stroke-width="0.9"/>
<line x1="366.11" y1="219.60" x2="366.11" y2="374.00" stroke="#fff" stroke-width="0.9"/>
<line x1="388.17" y1="219.60" x2="388.17" y2="374.00" stroke="#fff" stroke-width="0.9"/>
<line x1="222.70" y1="230.63" x2="399.20" y2="230.63" stroke="#fff" stroke-width="0.9"/>
<line x1="222.70" y1="252.69" x2="399.20" y2="252.69" stroke="#fff" stroke-width="0.9"/>
<line x1="222.70" y1="274.74" x2="399.20" y2="274.74" stroke="#fff" stroke-width="0.9"/>
<line x1="222.70" y1="296.80" x2="399.20" y2="296.80" stroke="#fff" stroke-width="0.9"/>
<line x1="222.70" y1="318.86" x2="399.20" y2="318.86" stroke="#fff" stroke-width="0.9"/>
<line x1="222.70" y1="340.91" x2="399.20" y2="340.91" stroke="#fff" stroke-width="0.9"/>
<line x1="222.70" y1="362.97" x2="399.20" y2="362.97" stroke="#fff" stroke-width="0.9"/>
<rect x="222.70" y="219.60" width="22.66" height="22.66" fill="#2979b9"/>
<rect x="244.76" y="219.60" width="22.66" height="22.66" fill="#1b69af"/>
<rect x="266.82" y="219.60" width="22.66" height="22.66" fill="#1b69af"/>
<rect x="288.89" y="219.60" width="22.66" height="22.66" fill="#0e59a2"/>
<rect x="310.95" y="219.60" width="22.66" height="22.66" fill="#084a91"/>
<rect x="333.01" y="219.60" width="22.66" height="22.66" fill="#1f6eb3"/>
<rect x="355.07" y="219.60" width="22.06" height="22.66" fill="#b0d2e7"/>
<rect x="222.70" y="241.66" width="22.66" height="22.66" fill="#3383be"/>
<rect x="244.76" y="241.66" width="22.66" height="22.66" fill="#1764ab"/>
<rect x="266.82" y="241.66" width="22.66" height="22.66" fill="#135fa7"/>
<rect x="288.89" y="241.66" width="22.66" height="22.66" fill="#0a549e"/>
<rect x="310.95" y="241.66" width="22.66" height="22.66" fill="#084a91"/>
<rect x="333.01" y="241.66" width="22.66" height="22.66" fill="#1f6eb3"/>
<rect x="355.07" y="241.66" width="22.06" height="22.66" fill="#84bcdb"/>
<rect x="222.70" y="263.71" width="22.66" height="22.66" fill="#57a0ce"/>
<rect x="244.76" y="263.71" width="22.66" height="22.66" fill="#3383be"/>
<rect x="266.82" y="263.71" width="22.66" height="22.66" fill="#2979b9"/>
<rect x="288.89" y="263.71" width="22.66" height="22.66" fill="#084f99"/>
<rect x="310.95" y="263.71" width="22.66" height="22.66" fill="#084a91"/>
<rect x="333.01" y="263.71" width="22.66" height="22.66" fill="#1f6eb3"/>
<rect x="355.07" y="263.71" width="22.06" height="22.66" fill="#94c4df"/>
<rect x="222.70" y="285.77" width="22.66" height="22.66" fill="#4a98c9"/>
<rect x="244.76" y="285.77" width="22.66" height="22.66" fill="#2979b9"/>
<rect x="266.82" y="285.77" width="22.66" height="22.66" fill="#2373b6"/>
<rect x="288.89" y="285.77" width="22.66" height="22.66" fill="#0e59a2"/>
<rect x="310.95" y="285.77" width="22.66" height="22.66" fill="#08458a"/>
<rect x="333.01" y="285.77" width="22.66" height="22.66" fill="#1b69af"/>
<rect x="355.07" y="285.77" width="22.06" height="22.66" fill="#9cc9e1"/>
<rect x="222.70" y="307.83" width="22.66" height="22.66" fill="#519ccc"/>
<rect x="244.76" y="307.83" width="22.66" height="22.66" fill="#2e7ebc"/>
<rect x="266.82" y="307.83" width="22.66" height="22.66" fill="#2979b9"/>
<rect x="288.89" y="307.83" width="22.66" height="22.66" fill="#0e59a2"/>
<rect x="310.95" y="307.83" width="22.66" height="22.66" fill="#084f99"/>
<rect x="333.01" y="307.83" width="22.66" height="22.66" fill="#135fa7"/>
<rect x="355.07" y="307.83" width="22.06" height="22.66" fill="#dfecf7"/>
<rect x="222.70" y="329.89" width="22.66" height="22.06" fill="#dfecf7"/>
<rect x="244.76" y="329.89" width="22.66" height="22.06" fill="#ccdff1"/>
<rect x="266.82" y="329.89" width="22.66" height="22.06" fill="#b7d4ea"/>
<rect x="288.89" y="329.89" width="22.66" height="22.06" fill="#8cc0dd"/>
<rect x="310.95" y="329.89" width="22.66" height="22.06" fill="#b0d2e7"/>
<rect x="333.01" y="329.89" width="22.66" height="22.06" fill="#9cc9e1"/>
<rect x="355.07" y="329.89" width="22.06" height="22.06" fill="#519ccc"/>
<text x="233.73" y="233.11" font-size="6.94" text-anchor="middle" fill="#ffffff" stroke="#ffffff" stroke-width="0.1" textLength="13.80" lengthAdjust="spacingAndGlyphs">0.86</text>
<text x="255.79" y="233.11" font-size="6.94" text-anchor="middle" fill="#ffffff" stroke="#ffffff" stroke-width="0.1" textLength="13.80" lengthAdjust="spacingAndGlyphs">0.89</text>
<text x="277.86" y="233.11" font-size="6.94" text-anchor="middle" fill="#ffffff" stroke="#ffffff" stroke-width="0.1" textLength="13.80" lengthAdjust="spacingAndGlyphs">0.89</text>
<text x="299.92" y="233.11" font-size="6.94" text-anchor="middle" fill="#ffffff" stroke="#ffffff" stroke-width="0.1" textLength="13.80" lengthAdjust="spacingAndGlyphs">0.92</text>
<text x="321.98" y="233.11" font-size="6.94" text-anchor="middle" fill="#ffffff" stroke="#ffffff" stroke-width="0.1" textLength="13.80" lengthAdjust="spacingAndGlyphs">0.95</text>
<text x="344.04" y="233.11" font-size="6.94" text-anchor="middle" fill="#ffffff" stroke="#ffffff" stroke-width="0.1" textLength="13.80" lengthAdjust="spacingAndGlyphs">0.88</text>
<text x="366.11" y="233.11" font-size="6.94" text-anchor="middle" fill="#262626" stroke="#262626" stroke-width="0.1" textLength="13.80" lengthAdjust="spacingAndGlyphs">0.66</text>
<text x="233.73" y="255.17" font-size="6.94" text-anchor="middle" fill="#ffffff" stroke="#ffffff" stroke-width="0.1" textLength="13.80" lengthAdjust="spacingAndGlyphs">0.84</text>
<text x="255.79" y="255.17" font-size="6.94" text-anchor="middle" fill="#ffffff" stroke="#ffffff" stroke-width="0.1" textLength="13.80" lengthAdjust="spacingAndGlyphs">0.90</text>
<text x="277.86" y="255.17" font-size="6.94" text-anchor="middle" fill="#ffffff" stroke="#ffffff" stroke-width="0.1" textLength="13.80" lengthAdjust="spacingAndGlyphs">0.91</text>
<text x="299.92" y="255.17" font-size="6.94" text-anchor="middle" fill="#ffffff" stroke="#ffffff" stroke-width="0.1" textLength="13.80" lengthAdjust="spacingAndGlyphs">0.93</text>
<text x="321.98" y="255.17" font-size="6.94" text-anchor="middle" fill="#ffffff" stroke="#ffffff" stroke-width="0.1" textLength="13.80" lengthAdjust="spacingAndGlyphs">0.95</text>
<text x="344.04" y="255.17" font-size="6.94" text-anchor="middle" fill="#ffffff" stroke="#ffffff" stroke-width="0.1" textLength="13.80" lengthAdjust="spacingAndGlyphs">0.88</text>
<text x="366.11" y="255.17" font-size="6.94" text-anchor="middle" fill="#262626" stroke="#262626" stroke-width="0.1" textLength="13.80" lengthAdjust="spacingAndGlyphs">0.72</text>
<text x="233.73" y="277.23" font-size="6.94" text-anchor="middle" fill="#ffffff" stroke="#ffffff" stroke-width="0.1" textLength="13.80" lengthAdjust="spacingAndGlyphs">0.78</text>
<text x="255.79" y="277.23" font-size="6.94" text-anchor="middle" fill="#ffffff" stroke="#ffffff" stroke-width="0.1" textLength="13.80" lengthAdjust="spacingAndGlyphs">0.84</text>
<text x="277.86" y="277.23" font-size="6.94" text-anchor="middle" fill="#ffffff" stroke="#ffffff" stroke-width="0.1" textLength="13.80" lengthAdjust="spacingAndGlyphs">0.86</text>
<text x="299.92" y="277.23" font-size="6.94" text-anchor="middle" fill="#ffffff" stroke="#ffffff" stroke-width="0.1" textLength="13.80" lengthAdjust="spacingAndGlyphs">0.94</text>
<text x="321.98" y="277.23" font-size="6.94" text-anchor="middle" fill="#ffffff" stroke="#ffffff" stroke-width="0.1" textLength="13.80" lengthAdjust="spacingAndGlyphs">0.95</text>
<text x="344.04" y="277.23" font-size="6.94" text-anchor="middle" fill="#ffffff" stroke="#ffffff" stroke-width="0.1" textLength="13.80" lengthAdjust="spacingAndGlyphs">0.88</text>
<text x="366.11" y="277.23" font-size="6.94" text-anchor="middle" fill="#262626" stroke="#262626" stroke-width="0.1" textLength="13.80" lengthAdjust="spacingAndGlyphs">0.70</text>
<text x="233.73" y="299.29" font-size="6.94" text-anchor="middle" fill="#ffffff" stroke="#ffffff" stroke-width="0.1" textLength="13.80" lengthAdjust="spacingAndGlyphs">0.80</text>
<text x="255.79" y="299.29" font-size="6.94" text-anchor="middle" fill="#ffffff" stroke="#ffffff" stroke-width="0.1" textLength="13.80" lengthAdjust="spacingAndGlyphs">0.86</text>
<text x="277.86" y="299.29" font-size="6.94" text-anchor="middle" fill="#ffffff" stroke="#ffffff" stroke-width="0.1" textLength="13.80" lengthAdjust="spacingAndGlyphs">0.87</text>
<text x="299.92" y="299.29" font-size="6.94" text-anchor="middle" fill="#ffffff" stroke="#ffffff" stroke-width="0.1" textLength="13.80" lengthAdjust="spacingAndGlyphs">0.92</text>
<text x="321.98" y="299.29" font-size="6.94" text-anchor="middle" fill="#ffffff" stroke="#ffffff" stroke-width="0.1" textLength="13.80" lengthAdjust="spacingAndGlyphs">0.96</text>
<text x="344.04" y="299.29" font-size="6.94" text-anchor="middle" fill="#ffffff" stroke="#ffffff" stroke-width="0.1" textLength="13.80" lengthAdjust="spacingAndGlyphs">0.89</text>
<text x="366.11" y="299.29" font-size="6.94" text-anchor="middle" fill="#262626" stroke="#262626" stroke-width="0.1" textLength="13.80" lengthAdjust="spacingAndGlyphs">0.69</text>
<text x="233.73" y="321.34" font-size="6.94" text-anchor="middle" fill="#ffffff" stroke="#ffffff" stroke-width="0.1" textLength="13.80" lengthAdjust="spacingAndGlyphs">0.79</text>
<text x="255.79" y="321.34" font-size="6.94" text-anchor="middle" fill="#ffffff" stroke="#ffffff" stroke-width="0.1" textLength="13.80" lengthAdjust="spacingAndGlyphs">0.85</text>
<text x="277.86" y="321.34" font-size="6.94" text-anchor="middle" fill="#ffffff" stroke="#ffffff" stroke-width="0.1" textLength="13.80" lengthAdjust="spacingAndGlyphs">0.86</text>
<text x="299.92" y="321.34" font-size="6.94" text-anchor="middle" fill="#ffffff" stroke="#ffffff" stroke-width="0.1" textLength="13.80" lengthAdjust="spacingAndGlyphs">0.92</text>
<text x="321.98" y="321.34" font-size="6.94" text-anchor="middle" fill="#ffffff" stroke="#ffffff" stroke-width="0.1" textLength="13.80" lengthAdjust="spacingAndGlyphs">0.94</text>
<text x="344.04" y="321.34" font-size="6.94" text-anchor="middle" fill="#ffffff" stroke="#ffffff" stroke-width="0.1" textLength="13.80" lengthAdjust="spacingAndGlyphs">0.91</text>
<text x="366.11" y="321.34" font-size="6.94" text-anchor="middle" fill="#262626" stroke="#262626" stroke-width="0.1" textLength="13.80" lengthAdjust="spacingAndGlyphs">0.56</text>
<text x="233.73" y="343.40" font-size="6.94" text-anchor="middle" fill="#262626" stroke="#262626" stroke-width="0.1" textLength="13.80" lengthAdjust="spacingAndGlyphs">0.56</text>
<text x="255.79" y="343.40" font-size="6.94" text-anchor="middle" fill="#262626" stroke="#262626" stroke-width="0.1" textLength="13.80" lengthAdjust="spacingAndGlyphs">0.61</text>
<text x="277.86" y="343.40" font-size="6.94" text-anchor="middle" fill="#262626" stroke="#262626" stroke-width="0.1" textLength="13.80" lengthAdjust="spacingAndGlyphs">0.65</text>
<text x="299.92" y="343.40" font-size="6.94" text-anchor="middle" fill="#262626" stroke="#262626" stroke-width="0.1" textLength="13.80" lengthAdjust="spacingAndGlyphs">0.71</text>
<text x="321.98" y="343.40" font-size="6.94" text-anchor="middle" fill="#262626" stroke="#262626" stroke-width="0.1" textLength="13.80" lengthAdjust="spacingAndGlyphs">0.66</text>
<text x="344.04" y="343.40" font-size="6.94" text-anchor="middle" fill="#262626" stroke="#262626" stroke-width="0.1" textLength="13.80" lengthAdjust="spacingAndGlyphs">0.69</text>
<text x="366.11" y="343.40" font-size="6.94" text-anchor="middle" fill="#ffffff" stroke="#ffffff" stroke-width="0.1" textLength="13.80" lengthAdjust="spacingAndGlyphs">0.79</text>
<text x="233.73" y="382.80" font-size="6.05" text-anchor="middle" fill="#262626" textLength="11.21" lengthAdjust="spacingAndGlyphs">eicu</text>
<text x="255.79" y="382.80" font-size="6.05" text-anchor="middle" fill="#262626" textLength="11.46" lengthAdjust="spacingAndGlyphs">miiv</text>
<text x="277.86" y="382.80" font-size="6.05" text-anchor="middle" fill="#262626" textLength="16.49" lengthAdjust="spacingAndGlyphs">mimic</text>
<text x="299.92" y="382.80" font-size="6.05" text-anchor="middle" fill="#262626" textLength="12.07" lengthAdjust="spacingAndGlyphs">hirid</text>
<text x="321.98" y="382.80" font-size="6.05" text-anchor="middle" fill="#262626" textLength="14.96" lengthAdjust="spacingAndGlyphs">aumc</text>
<text x="344.04" y="382.80" font-size="6.05" text-anchor="middle" fill="#262626" textLength="7.28" lengthAdjust="spacingAndGlyphs">sic</text>
<text x="366.11" y="382.80" font-size="6.05" text-anchor="middle" fill="#262626" textLength="14.75" lengthAdjust="spacingAndGlyphs">picdb</text>
<text x="388.17" y="382.80" font-size="6.05" text-anchor="middle" fill="#262626" textLength="17.92" lengthAdjust="spacingAndGlyphs">zigong</text>
<text x="217.50" y="230.63" font-size="6.05" text-anchor="middle" fill="#262626" transform="rotate(-90 217.50 230.63)" textLength="11.21" lengthAdjust="spacingAndGlyphs">eicu</text>
<text x="217.50" y="252.69" font-size="6.05" text-anchor="middle" fill="#262626" transform="rotate(-90 217.50 252.69)" textLength="11.46" lengthAdjust="spacingAndGlyphs">miiv</text>
<text x="217.50" y="274.74" font-size="6.05" text-anchor="middle" fill="#262626" transform="rotate(-90 217.50 274.74)" textLength="12.07" lengthAdjust="spacingAndGlyphs">hirid</text>
<text x="217.50" y="296.80" font-size="6.05" text-anchor="middle" fill="#262626" transform="rotate(-90 217.50 296.80)" textLength="14.96" lengthAdjust="spacingAndGlyphs">aumc</text>
<text x="217.50" y="318.86" font-size="6.05" text-anchor="middle" fill="#262626" transform="rotate(-90 217.50 318.86)" textLength="7.28" lengthAdjust="spacingAndGlyphs">sic</text>
<text x="217.50" y="340.91" font-size="6.05" text-anchor="middle" fill="#262626" transform="rotate(-90 217.50 340.91)" textLength="14.75" lengthAdjust="spacingAndGlyphs">picdb</text>
<text x="217.50" y="362.97" font-size="6.05" text-anchor="middle" fill="#262626" transform="rotate(-90 217.50 362.97)" textLength="17.92" lengthAdjust="spacingAndGlyphs">zigong</text>
<text x="310.95" y="389.50" font-size="6.27" text-anchor="middle" fill="#262626" textLength="17.33" lengthAdjust="spacingAndGlyphs">Target</text>
<text x="211.10" y="296.80" font-size="6.27" text-anchor="middle" fill="#262626" transform="rotate(-90 211.10 296.80)" textLength="19.23" lengthAdjust="spacingAndGlyphs">Source</text>
<text x="310.95" y="216.60" font-size="7.34" text-anchor="middle" fill="#1a1a1a" textLength="68.33" lengthAdjust="spacingAndGlyphs">Kidney failure at 48h</text>
<rect x="459.00" y="7.70" width="19.89" height="19.94" fill="#1764ab"/>
<rect x="478.29" y="7.70" width="19.89" height="19.94" fill="#1b69af"/>
<rect x="497.57" y="7.70" width="19.89" height="19.94" fill="#1b69af"/>
<rect x="516.86" y="7.70" width="19.89" height="19.94" fill="#2e7ebc"/>
<rect x="536.15" y="7.70" width="19.89" height="19.94" fill="#1b69af"/>
<rect x="555.44" y="7.70" width="19.89" height="19.94" fill="#3383be"/>
<rect x="574.72" y="7.70" width="19.89" height="19.94" fill="#84bcdb"/>
<rect x="594.01" y="7.70" width="19.29" height="19.94" fill="#519ccc"/>
<rect x="459.00" y="27.04" width="19.89" height="19.94" fill="#1f6eb3"/>
<rect x="478.29" y="27.04" width="19.89" height="19.94" fill="#135fa7"/>
<rect x="497.57" y="27.04" width="19.89" height="19.94" fill="#135fa7"/>
<rect x="516.86" y="27.04" width="19.89" height="19.94" fill="#2373b6"/>
<rect x="536.15" y="27.04" width="19.89" height="19.94" fill="#1b69af"/>
<rect x="555.44" y="27.04" width="19.89" height="19.94" fill="#3383be"/>
<rect x="574.72" y="27.04" width="19.89" height="19.94" fill="#74b3d8"/>
<rect x="594.01" y="27.04" width="19.29" height="19.94" fill="#519ccc"/>
<rect x="459.00" y="46.39" width="19.89" height="19.94" fill="#2e7ebc"/>
<rect x="478.29" y="46.39" width="19.89" height="19.94" fill="#2979b9"/>
<rect x="497.57" y="46.39" width="19.89" height="19.94" fill="#2979b9"/>
<rect x="516.86" y="46.39" width="19.89" height="19.94" fill="#1764ab"/>
<rect x="536.15" y="46.39" width="19.89" height="19.94" fill="#1764ab"/>
<rect x="555.44" y="46.39" width="19.89" height="19.94" fill="#3989c1"/>
<rect x="574.72" y="46.39" width="19.89" height="19.94" fill="#74b3d8"/>
<rect x="594.01" y="46.39" width="19.29" height="19.94" fill="#57a0ce"/>
<rect x="459.00" y="65.73" width="19.89" height="19.94" fill="#2979b9"/>
<rect x="478.29" y="65.73" width="19.89" height="19.94" fill="#1f6eb3"/>
<rect x="497.57" y="65.73" width="19.89" height="19.94" fill="#2373b6"/>
<rect x="516.86" y="65.73" width="19.89" height="19.94" fill="#2373b6"/>
<rect x="536.15" y="65.73" width="19.89" height="19.94" fill="#0a549e"/>
<rect x="555.44" y="65.73" width="19.89" height="19.94" fill="#3383be"/>
<rect x="574.72" y="65.73" width="19.89" height="19.94" fill="#a3cce3"/>
<rect x="594.01" y="65.73" width="19.29" height="19.94" fill="#519ccc"/>
<rect x="459.00" y="85.07" width="19.89" height="19.94" fill="#3989c1"/>
<rect x="478.29" y="85.07" width="19.89" height="19.94" fill="#2e7ebc"/>
<rect x="497.57" y="85.07" width="19.89" height="19.94" fill="#3383be"/>
<rect x="516.86" y="85.07" width="19.89" height="19.94" fill="#3383be"/>
<rect x="536.15" y="85.07" width="19.89" height="19.94" fill="#2373b6"/>
<rect x="555.44" y="85.07" width="19.89" height="19.94" fill="#1f6eb3"/>
<rect x="574.72" y="85.07" width="19.89" height="19.94" fill="#9cc9e1"/>
<rect x="594.01" y="85.07" width="19.29" height="19.94" fill="#5da5d1"/>
<rect x="459.00" y="104.41" width="19.89" height="19.94" fill="#b0d2e7"/>
<rect x="478.29" y="104.41" width="19.89" height="19.94" fill="#a9cfe5"/>
<rect x="497.57" y="104.41" width="19.89" height="19.94" fill="#a9cfe5"/>
<rect x="516.86" y="104.41" width="19.89" height="19.94" fill="#a3cce3"/>
<rect x="536.15" y="104.41" width="19.89" height="19.94" fill="#b0d2e7"/>
<rect x="555.44" y="104.41" width="19.89" height="19.94" fill="#a9cfe5"/>
<rect x="574.72" y="104.41" width="19.89" height="19.94" fill="#3383be"/>
<rect x="594.01" y="104.41" width="19.29" height="19.94" fill="#6aaed6"/>
<rect x="459.00" y="123.76" width="19.89" height="19.34" fill="#57a0ce"/>
<rect x="478.29" y="123.76" width="19.89" height="19.34" fill="#519ccc"/>
<rect x="497.57" y="123.76" width="19.89" height="19.34" fill="#5da5d1"/>
<rect x="516.86" y="123.76" width="19.89" height="19.34" fill="#74b3d8"/>
<rect x="536.15" y="123.76" width="19.89" height="19.34" fill="#84bcdb"/>
<rect x="555.44" y="123.76" width="19.89" height="19.34" fill="#a3cce3"/>
<rect x="574.72" y="123.76" width="19.89" height="19.34" fill="#6aaed6"/>
<rect x="594.01" y="123.76" width="19.29" height="19.34" fill="#0a549e"/>
<text x="468.64" y="19.62" font-size="6.27" text-anchor="middle" fill="#ffffff" stroke="#ffffff" stroke-width="0.04" textLength="12.47" lengthAdjust="spacingAndGlyphs">0.90</text>
<text x="487.93" y="19.62" font-size="6.27" text-anchor="middle" fill="#ffffff" stroke="#ffffff" stroke-width="0.04" textLength="12.47" lengthAdjust="spacingAndGlyphs">0.89</text>
<text x="507.22" y="19.62" font-size="6.27" text-anchor="middle" fill="#ffffff" stroke="#ffffff" stroke-width="0.04" textLength="12.47" lengthAdjust="spacingAndGlyphs">0.89</text>
<text x="526.51" y="19.62" font-size="6.27" text-anchor="middle" fill="#ffffff" stroke="#ffffff" stroke-width="0.04" textLength="12.47" lengthAdjust="spacingAndGlyphs">0.85</text>
<text x="545.79" y="19.62" font-size="6.27" text-anchor="middle" fill="#ffffff" stroke="#ffffff" stroke-width="0.04" textLength="12.47" lengthAdjust="spacingAndGlyphs">0.89</text>
<text x="565.08" y="19.62" font-size="6.27" text-anchor="middle" fill="#ffffff" stroke="#ffffff" stroke-width="0.04" textLength="12.47" lengthAdjust="spacingAndGlyphs">0.84</text>
<text x="584.37" y="19.62" font-size="6.27" text-anchor="middle" fill="#262626" stroke="#262626" stroke-width="0.04" textLength="12.47" lengthAdjust="spacingAndGlyphs">0.72</text>
<text x="603.66" y="19.62" font-size="6.27" text-anchor="middle" fill="#ffffff" stroke="#ffffff" stroke-width="0.04" textLength="12.47" lengthAdjust="spacingAndGlyphs">0.79</text>
<text x="468.64" y="38.96" font-size="6.27" text-anchor="middle" fill="#ffffff" stroke="#ffffff" stroke-width="0.04" textLength="12.47" lengthAdjust="spacingAndGlyphs">0.88</text>
<text x="487.93" y="38.96" font-size="6.27" text-anchor="middle" fill="#ffffff" stroke="#ffffff" stroke-width="0.04" textLength="12.47" lengthAdjust="spacingAndGlyphs">0.91</text>
<text x="507.22" y="38.96" font-size="6.27" text-anchor="middle" fill="#ffffff" stroke="#ffffff" stroke-width="0.04" textLength="12.47" lengthAdjust="spacingAndGlyphs">0.91</text>
<text x="526.51" y="38.96" font-size="6.27" text-anchor="middle" fill="#ffffff" stroke="#ffffff" stroke-width="0.04" textLength="12.47" lengthAdjust="spacingAndGlyphs">0.87</text>
<text x="545.79" y="38.96" font-size="6.27" text-anchor="middle" fill="#ffffff" stroke="#ffffff" stroke-width="0.04" textLength="12.47" lengthAdjust="spacingAndGlyphs">0.89</text>
<text x="565.08" y="38.96" font-size="6.27" text-anchor="middle" fill="#ffffff" stroke="#ffffff" stroke-width="0.04" textLength="12.47" lengthAdjust="spacingAndGlyphs">0.84</text>
<text x="584.37" y="38.96" font-size="6.27" text-anchor="middle" fill="#262626" stroke="#262626" stroke-width="0.04" textLength="12.47" lengthAdjust="spacingAndGlyphs">0.74</text>
<text x="603.66" y="38.96" font-size="6.27" text-anchor="middle" fill="#ffffff" stroke="#ffffff" stroke-width="0.04" textLength="12.47" lengthAdjust="spacingAndGlyphs">0.79</text>
<text x="468.64" y="58.30" font-size="6.27" text-anchor="middle" fill="#ffffff" stroke="#ffffff" stroke-width="0.04" textLength="12.47" lengthAdjust="spacingAndGlyphs">0.85</text>
<text x="487.93" y="58.30" font-size="6.27" text-anchor="middle" fill="#ffffff" stroke="#ffffff" stroke-width="0.04" textLength="12.47" lengthAdjust="spacingAndGlyphs">0.86</text>
<text x="507.22" y="58.30" font-size="6.27" text-anchor="middle" fill="#ffffff" stroke="#ffffff" stroke-width="0.04" textLength="12.47" lengthAdjust="spacingAndGlyphs">0.86</text>
<text x="526.51" y="58.30" font-size="6.27" text-anchor="middle" fill="#ffffff" stroke="#ffffff" stroke-width="0.04" textLength="12.47" lengthAdjust="spacingAndGlyphs">0.90</text>
<text x="545.79" y="58.30" font-size="6.27" text-anchor="middle" fill="#ffffff" stroke="#ffffff" stroke-width="0.04" textLength="12.47" lengthAdjust="spacingAndGlyphs">0.90</text>
<text x="565.08" y="58.30" font-size="6.27" text-anchor="middle" fill="#ffffff" stroke="#ffffff" stroke-width="0.04" textLength="12.47" lengthAdjust="spacingAndGlyphs">0.83</text>
<text x="584.37" y="58.30" font-size="6.27" text-anchor="middle" fill="#262626" stroke="#262626" stroke-width="0.04" textLength="12.47" lengthAdjust="spacingAndGlyphs">0.74</text>
<text x="603.66" y="58.30" font-size="6.27" text-anchor="middle" fill="#ffffff" stroke="#ffffff" stroke-width="0.04" textLength="12.47" lengthAdjust="spacingAndGlyphs">0.78</text>
<text x="468.64" y="77.65" font-size="6.27" text-anchor="middle" fill="#ffffff" stroke="#ffffff" stroke-width="0.04" textLength="12.47" lengthAdjust="spacingAndGlyphs">0.86</text>
<text x="487.93" y="77.65" font-size="6.27" text-anchor="middle" fill="#ffffff" stroke="#ffffff" stroke-width="0.04" textLength="12.47" lengthAdjust="spacingAndGlyphs">0.88</text>
<text x="507.22" y="77.65" font-size="6.27" text-anchor="middle" fill="#ffffff" stroke="#ffffff" stroke-width="0.04" textLength="12.47" lengthAdjust="spacingAndGlyphs">0.87</text>
<text x="526.51" y="77.65" font-size="6.27" text-anchor="middle" fill="#ffffff" stroke="#ffffff" stroke-width="0.04" textLength="12.47" lengthAdjust="spacingAndGlyphs">0.87</text>
<text x="545.79" y="77.65" font-size="6.27" text-anchor="middle" fill="#ffffff" stroke="#ffffff" stroke-width="0.04" textLength="12.47" lengthAdjust="spacingAndGlyphs">0.93</text>
<text x="565.08" y="77.65" font-size="6.27" text-anchor="middle" fill="#ffffff" stroke="#ffffff" stroke-width="0.04" textLength="12.47" lengthAdjust="spacingAndGlyphs">0.84</text>
<text x="584.37" y="77.65" font-size="6.27" text-anchor="middle" fill="#262626" stroke="#262626" stroke-width="0.04" textLength="12.47" lengthAdjust="spacingAndGlyphs">0.68</text>
<text x="603.66" y="77.65" font-size="6.27" text-anchor="middle" fill="#ffffff" stroke="#ffffff" stroke-width="0.04" textLength="12.47" lengthAdjust="spacingAndGlyphs">0.79</text>
<text x="468.64" y="96.99" font-size="6.27" text-anchor="middle" fill="#ffffff" stroke="#ffffff" stroke-width="0.04" textLength="12.47" lengthAdjust="spacingAndGlyphs">0.83</text>
<text x="487.93" y="96.99" font-size="6.27" text-anchor="middle" fill="#ffffff" stroke="#ffffff" stroke-width="0.04" textLength="12.47" lengthAdjust="spacingAndGlyphs">0.85</text>
<text x="507.22" y="96.99" font-size="6.27" text-anchor="middle" fill="#ffffff" stroke="#ffffff" stroke-width="0.04" textLength="12.47" lengthAdjust="spacingAndGlyphs">0.84</text>
<text x="526.51" y="96.99" font-size="6.27" text-anchor="middle" fill="#ffffff" stroke="#ffffff" stroke-width="0.04" textLength="12.47" lengthAdjust="spacingAndGlyphs">0.84</text>
<text x="545.79" y="96.99" font-size="6.27" text-anchor="middle" fill="#ffffff" stroke="#ffffff" stroke-width="0.04" textLength="12.47" lengthAdjust="spacingAndGlyphs">0.87</text>
<text x="565.08" y="96.99" font-size="6.27" text-anchor="middle" fill="#ffffff" stroke="#ffffff" stroke-width="0.04" textLength="12.47" lengthAdjust="spacingAndGlyphs">0.88</text>
<text x="584.37" y="96.99" font-size="6.27" text-anchor="middle" fill="#262626" stroke="#262626" stroke-width="0.04" textLength="12.47" lengthAdjust="spacingAndGlyphs">0.69</text>
<text x="603.66" y="96.99" font-size="6.27" text-anchor="middle" fill="#ffffff" stroke="#ffffff" stroke-width="0.04" textLength="12.47" lengthAdjust="spacingAndGlyphs">0.77</text>
<text x="468.64" y="116.33" font-size="6.27" text-anchor="middle" fill="#262626" stroke="#262626" stroke-width="0.04" textLength="12.47" lengthAdjust="spacingAndGlyphs">0.66</text>
<text x="487.93" y="116.33" font-size="6.27" text-anchor="middle" fill="#262626" stroke="#262626" stroke-width="0.04" textLength="12.47" lengthAdjust="spacingAndGlyphs">0.67</text>
<text x="507.22" y="116.33" font-size="6.27" text-anchor="middle" fill="#262626" stroke="#262626" stroke-width="0.04" textLength="12.47" lengthAdjust="spacingAndGlyphs">0.67</text>
<text x="526.51" y="116.33" font-size="6.27" text-anchor="middle" fill="#262626" stroke="#262626" stroke-width="0.04" textLength="12.47" lengthAdjust="spacingAndGlyphs">0.68</text>
<text x="545.79" y="116.33" font-size="6.27" text-anchor="middle" fill="#262626" stroke="#262626" stroke-width="0.04" textLength="12.47" lengthAdjust="spacingAndGlyphs">0.66</text>
<text x="565.08" y="116.33" font-size="6.27" text-anchor="middle" fill="#262626" stroke="#262626" stroke-width="0.04" textLength="12.47" lengthAdjust="spacingAndGlyphs">0.67</text>
<text x="584.37" y="116.33" font-size="6.27" text-anchor="middle" fill="#ffffff" stroke="#ffffff" stroke-width="0.04" textLength="12.47" lengthAdjust="spacingAndGlyphs">0.84</text>
<text x="603.66" y="116.33" font-size="6.27" text-anchor="middle" fill="#ffffff" stroke="#ffffff" stroke-width="0.04" textLength="12.47" lengthAdjust="spacingAndGlyphs">0.75</text>
<text x="468.64" y="135.67" font-size="6.27" text-anchor="middle" fill="#ffffff" stroke="#ffffff" stroke-width="0.04" textLength="12.47" lengthAdjust="spacingAndGlyphs">0.78</text>
<text x="487.93" y="135.67" font-size="6.27" text-anchor="middle" fill="#ffffff" stroke="#ffffff" stroke-width="0.04" textLength="12.47" lengthAdjust="spacingAndGlyphs">0.79</text>
<text x="507.22" y="135.67" font-size="6.27" text-anchor="middle" fill="#ffffff" stroke="#ffffff" stroke-width="0.04" textLength="12.47" lengthAdjust="spacingAndGlyphs">0.77</text>
<text x="526.51" y="135.67" font-size="6.27" text-anchor="middle" fill="#262626" stroke="#262626" stroke-width="0.04" textLength="12.47" lengthAdjust="spacingAndGlyphs">0.74</text>
<text x="545.79" y="135.67" font-size="6.27" text-anchor="middle" fill="#262626" stroke="#262626" stroke-width="0.04" textLength="12.47" lengthAdjust="spacingAndGlyphs">0.72</text>
<text x="565.08" y="135.67" font-size="6.27" text-anchor="middle" fill="#262626" stroke="#262626" stroke-width="0.04" textLength="12.47" lengthAdjust="spacingAndGlyphs">0.68</text>
<text x="584.37" y="135.67" font-size="6.27" text-anchor="middle" fill="#ffffff" stroke="#ffffff" stroke-width="0.04" textLength="12.47" lengthAdjust="spacingAndGlyphs">0.75</text>
<text x="603.66" y="135.67" font-size="6.27" text-anchor="middle" fill="#ffffff" stroke="#ffffff" stroke-width="0.04" textLength="12.47" lengthAdjust="spacingAndGlyphs">0.93</text>
<text x="468.64" y="151.70" font-size="6.16" text-anchor="middle" fill="#262626" textLength="11.42" lengthAdjust="spacingAndGlyphs">eicu</text>
<line x1="468.64" y1="143.10" x2="468.64" y2="145.30" stroke="#262626" stroke-width="0.8"/>
<text x="487.93" y="151.70" font-size="6.16" text-anchor="middle" fill="#262626" textLength="11.67" lengthAdjust="spacingAndGlyphs">miiv</text>
<line x1="487.93" y1="143.10" x2="487.93" y2="145.30" stroke="#262626" stroke-width="0.8"/>
<text x="507.22" y="151.70" font-size="6.16" text-anchor="middle" fill="#262626" textLength="16.80" lengthAdjust="spacingAndGlyphs">mimic</text>
<line x1="507.22" y1="143.10" x2="507.22" y2="145.30" stroke="#262626" stroke-width="0.8"/>
<text x="526.51" y="151.70" font-size="6.16" text-anchor="middle" fill="#262626" textLength="12.29" lengthAdjust="spacingAndGlyphs">hirid</text>
<line x1="526.51" y1="143.10" x2="526.51" y2="145.30" stroke="#262626" stroke-width="0.8"/>
<text x="545.79" y="151.70" font-size="6.16" text-anchor="middle" fill="#262626" textLength="15.24" lengthAdjust="spacingAndGlyphs">aumc</text>
<line x1="545.79" y1="143.10" x2="545.79" y2="145.30" stroke="#262626" stroke-width="0.8"/>
<text x="565.08" y="151.70" font-size="6.16" text-anchor="middle" fill="#262626" textLength="7.42" lengthAdjust="spacingAndGlyphs">sic</text>
<line x1="565.08" y1="143.10" x2="565.08" y2="145.30" stroke="#262626" stroke-width="0.8"/>
<text x="584.37" y="151.70" font-size="6.16" text-anchor="middle" fill="#262626" textLength="15.03" lengthAdjust="spacingAndGlyphs">picdb</text>
<line x1="584.37" y1="143.10" x2="584.37" y2="145.30" stroke="#262626" stroke-width="0.8"/>
<text x="603.66" y="151.70" font-size="6.16" text-anchor="middle" fill="#262626" textLength="18.25" lengthAdjust="spacingAndGlyphs">zigong</text>
<line x1="603.66" y1="143.10" x2="603.66" y2="145.30" stroke="#262626" stroke-width="0.8"/>
<text x="453.60" y="17.37" font-size="6.16" text-anchor="middle" fill="#262626" transform="rotate(-90 453.60 17.37)" textLength="11.42" lengthAdjust="spacingAndGlyphs">eicu</text>
<line x1="456.80" y1="17.37" x2="459.00" y2="17.37" stroke="#262626" stroke-width="0.8"/>
<text x="453.60" y="36.71" font-size="6.16" text-anchor="middle" fill="#262626" transform="rotate(-90 453.60 36.71)" textLength="11.67" lengthAdjust="spacingAndGlyphs">miiv</text>
<line x1="456.80" y1="36.71" x2="459.00" y2="36.71" stroke="#262626" stroke-width="0.8"/>
<text x="453.60" y="56.06" font-size="6.16" text-anchor="middle" fill="#262626" transform="rotate(-90 453.60 56.06)" textLength="12.29" lengthAdjust="spacingAndGlyphs">hirid</text>
<line x1="456.80" y1="56.06" x2="459.00" y2="56.06" stroke="#262626" stroke-width="0.8"/>
<text x="453.60" y="75.40" font-size="6.16" text-anchor="middle" fill="#262626" transform="rotate(-90 453.60 75.40)" textLength="15.24" lengthAdjust="spacingAndGlyphs">aumc</text>
<line x1="456.80" y1="75.40" x2="459.00" y2="75.40" stroke="#262626" stroke-width="0.8"/>
<text x="453.60" y="94.74" font-size="6.16" text-anchor="middle" fill="#262626" transform="rotate(-90 453.60 94.74)" textLength="7.42" lengthAdjust="spacingAndGlyphs">sic</text>
<line x1="456.80" y1="94.74" x2="459.00" y2="94.74" stroke="#262626" stroke-width="0.8"/>
<text x="453.60" y="114.09" font-size="6.16" text-anchor="middle" fill="#262626" transform="rotate(-90 453.60 114.09)" textLength="15.03" lengthAdjust="spacingAndGlyphs">picdb</text>
<line x1="456.80" y1="114.09" x2="459.00" y2="114.09" stroke="#262626" stroke-width="0.8"/>
<text x="453.60" y="133.43" font-size="6.16" text-anchor="middle" fill="#262626" transform="rotate(-90 453.60 133.43)" textLength="18.25" lengthAdjust="spacingAndGlyphs">zigong</text>
<line x1="456.80" y1="133.43" x2="459.00" y2="133.43" stroke="#262626" stroke-width="0.8"/>
<text x="536.15" y="159.20" font-size="6.16" text-anchor="middle" fill="#262626" textLength="17.02" lengthAdjust="spacingAndGlyphs">Target</text>
<text x="447.00" y="75.40" font-size="6.16" text-anchor="middle" fill="#262626" transform="rotate(-90 447.00 75.40)" textLength="18.89" lengthAdjust="spacingAndGlyphs">Source</text>
<text x="536.15" y="4.40" font-size="7.43" text-anchor="middle" fill="#1a1a1a" textLength="133.49" lengthAdjust="spacingAndGlyphs">Average Transfer (AuROC): LGBM (Feat.)</text>
<rect x="458.90" y="237.30" width="19.90" height="19.89" fill="#1b69af"/>
<rect x="478.20" y="237.30" width="19.90" height="19.89" fill="#2373b6"/>
<rect x="497.50" y="237.30" width="19.90" height="19.89" fill="#2373b6"/>
<rect x="516.80" y="237.30" width="19.90" height="19.89" fill="#3989c1"/>
<rect x="536.10" y="237.30" width="19.90" height="19.89" fill="#2e7ebc"/>
<rect x="555.40" y="237.30" width="19.90" height="19.89" fill="#57a0ce"/>
<rect x="574.70" y="237.30" width="19.90" height="19.89" fill="#9cc9e1"/>
<rect x="594.00" y="237.30" width="19.30" height="19.89" fill="#6aaed6"/>
<rect x="458.90" y="256.59" width="19.90" height="19.89" fill="#3989c1"/>
<rect x="478.20" y="256.59" width="19.90" height="19.89" fill="#1764ab"/>
<rect x="497.50" y="256.59" width="19.90" height="19.89" fill="#1f6eb3"/>
<rect x="516.80" y="256.59" width="19.90" height="19.89" fill="#3383be"/>
<rect x="536.10" y="256.59" width="19.90" height="19.89" fill="#3383be"/>
<rect x="555.40" y="256.59" width="19.90" height="19.89" fill="#57a0ce"/>
<rect x="574.70" y="256.59" width="19.90" height="19.89" fill="#a3cce3"/>
<rect x="594.00" y="256.59" width="19.30" height="19.89" fill="#64a9d3"/>
<rect x="458.90" y="275.87" width="19.90" height="19.89" fill="#519ccc"/>
<rect x="478.20" y="275.87" width="19.90" height="19.89" fill="#3989c1"/>
<rect x="497.50" y="275.87" width="19.90" height="19.89" fill="#3989c1"/>
<rect x="516.80" y="275.87" width="19.90" height="19.89" fill="#1b69af"/>
<rect x="536.10" y="275.87" width="19.90" height="19.89" fill="#1f6eb3"/>
<rect x="555.40" y="275.87" width="19.90" height="19.89" fill="#519ccc"/>
<rect x="574.70" y="275.87" width="19.90" height="19.89" fill="#94c4df"/>
<rect x="594.00" y="275.87" width="19.30" height="19.89" fill="#74b3d8"/>
<rect x="458.90" y="295.16" width="19.90" height="19.89" fill="#7cb7da"/>
<rect x="478.20" y="295.16" width="19.90" height="19.89" fill="#4a98c9"/>
<rect x="497.50" y="295.16" width="19.90" height="19.89" fill="#4a98c9"/>
<rect x="516.80" y="295.16" width="19.90" height="19.89" fill="#3383be"/>
<rect x="536.10" y="295.16" width="19.90" height="19.89" fill="#0e59a2"/>
<rect x="555.40" y="295.16" width="19.90" height="19.89" fill="#519ccc"/>
<rect x="574.70" y="295.16" width="19.90" height="19.89" fill="#a3cce3"/>
<rect x="594.00" y="295.16" width="19.30" height="19.89" fill="#a9cfe5"/>
<rect x="458.90" y="314.44" width="19.90" height="19.89" fill="#5da5d1"/>
<rect x="478.20" y="314.44" width="19.90" height="19.89" fill="#4493c7"/>
<rect x="497.50" y="314.44" width="19.90" height="19.89" fill="#4493c7"/>
<rect x="516.80" y="314.44" width="19.90" height="19.89" fill="#3e8ec4"/>
<rect x="536.10" y="314.44" width="19.90" height="19.89" fill="#3989c1"/>
<rect x="555.40" y="314.44" width="19.90" height="19.89" fill="#2373b6"/>
<rect x="574.70" y="314.44" width="19.90" height="19.89" fill="#b0d2e7"/>
<rect x="594.00" y="314.44" width="19.30" height="19.89" fill="#84bcdb"/>
<rect x="458.90" y="333.73" width="19.90" height="19.89" fill="#b7d4ea"/>
<rect x="478.20" y="333.73" width="19.90" height="19.89" fill="#a9cfe5"/>
<rect x="497.50" y="333.73" width="19.90" height="19.89" fill="#a3cce3"/>
<rect x="516.80" y="333.73" width="19.90" height="19.89" fill="#b0d2e7"/>
<rect x="536.10" y="333.73" width="19.90" height="19.89" fill="#a9cfe5"/>
<rect x="555.40" y="333.73" width="19.90" height="19.89" fill="#b7d4ea"/>
<rect x="574.70" y="333.73" width="19.90" height="19.89" fill="#519ccc"/>
<rect x="594.00" y="333.73" width="19.30" height="19.89" fill="#94c4df"/>
<rect x="458.90" y="353.01" width="19.90" height="19.29" fill="#9cc9e1"/>
<rect x="478.20" y="353.01" width="19.90" height="19.29" fill="#94c4df"/>
<rect x="497.50" y="353.01" width="19.90" height="19.29" fill="#a9cfe5"/>
<rect x="516.80" y="353.01" width="19.90" height="19.29" fill="#8cc0dd"/>
<rect x="536.10" y="353.01" width="19.90" height="19.29" fill="#d3e4f3"/>
<rect x="555.40" y="353.01" width="19.90" height="19.29" fill="#ccdff1"/>
<rect x="574.70" y="353.01" width="19.90" height="19.29" fill="#84bcdb"/>
<rect x="594.00" y="353.01" width="19.30" height="19.29" fill="#1f6eb3"/>
<text x="468.55" y="249.19" font-size="6.27" text-anchor="middle" fill="#ffffff" stroke="#ffffff" stroke-width="0.04" textLength="12.47" lengthAdjust="spacingAndGlyphs">0.89</text>
<text x="487.85" y="249.19" font-size="6.27" text-anchor="middle" fill="#ffffff" stroke="#ffffff" stroke-width="0.04" textLength="12.47" lengthAdjust="spacingAndGlyphs">0.87</text>
<text x="507.15" y="249.19" font-size="6.27" text-anchor="middle" fill="#ffffff" stroke="#ffffff" stroke-width="0.04" textLength="12.47" lengthAdjust="spacingAndGlyphs">0.87</text>
<text x="526.45" y="249.19" font-size="6.27" text-anchor="middle" fill="#ffffff" stroke="#ffffff" stroke-width="0.04" textLength="12.47" lengthAdjust="spacingAndGlyphs">0.83</text>
<text x="545.75" y="249.19" font-size="6.27" text-anchor="middle" fill="#ffffff" stroke="#ffffff" stroke-width="0.04" textLength="12.47" lengthAdjust="spacingAndGlyphs">0.85</text>
<text x="565.05" y="249.19" font-size="6.27" text-anchor="middle" fill="#ffffff" stroke="#ffffff" stroke-width="0.04" textLength="12.47" lengthAdjust="spacingAndGlyphs">0.78</text>
<text x="584.35" y="249.19" font-size="6.27" text-anchor="middle" fill="#262626" stroke="#262626" stroke-width="0.04" textLength="12.47" lengthAdjust="spacingAndGlyphs">0.69</text>
<text x="603.65" y="249.19" font-size="6.27" text-anchor="middle" fill="#ffffff" stroke="#ffffff" stroke-width="0.04" textLength="12.47" lengthAdjust="spacingAndGlyphs">0.75</text>
<text x="468.55" y="268.47" font-size="6.27" text-anchor="middle" fill="#ffffff" stroke="#ffffff" stroke-width="0.04" textLength="12.47" lengthAdjust="spacingAndGlyphs">0.83</text>
<text x="487.85" y="268.47" font-size="6.27" text-anchor="middle" fill="#ffffff" stroke="#ffffff" stroke-width="0.04" textLength="12.47" lengthAdjust="spacingAndGlyphs">0.90</text>
<text x="507.15" y="268.47" font-size="6.27" text-anchor="middle" fill="#ffffff" stroke="#ffffff" stroke-width="0.04" textLength="12.47" lengthAdjust="spacingAndGlyphs">0.88</text>
<text x="526.45" y="268.47" font-size="6.27" text-anchor="middle" fill="#ffffff" stroke="#ffffff" stroke-width="0.04" textLength="12.47" lengthAdjust="spacingAndGlyphs">0.84</text>
<text x="545.75" y="268.47" font-size="6.27" text-anchor="middle" fill="#ffffff" stroke="#ffffff" stroke-width="0.04" textLength="12.47" lengthAdjust="spacingAndGlyphs">0.84</text>
<text x="565.05" y="268.47" font-size="6.27" text-anchor="middle" fill="#ffffff" stroke="#ffffff" stroke-width="0.04" textLength="12.47" lengthAdjust="spacingAndGlyphs">0.78</text>
<text x="584.35" y="268.47" font-size="6.27" text-anchor="middle" fill="#262626" stroke="#262626" stroke-width="0.04" textLength="12.47" lengthAdjust="spacingAndGlyphs">0.68</text>
<text x="603.65" y="268.47" font-size="6.27" text-anchor="middle" fill="#ffffff" stroke="#ffffff" stroke-width="0.04" textLength="12.47" lengthAdjust="spacingAndGlyphs">0.76</text>
<text x="468.55" y="287.76" font-size="6.27" text-anchor="middle" fill="#ffffff" stroke="#ffffff" stroke-width="0.04" textLength="12.47" lengthAdjust="spacingAndGlyphs">0.79</text>
<text x="487.85" y="287.76" font-size="6.27" text-anchor="middle" fill="#ffffff" stroke="#ffffff" stroke-width="0.04" textLength="12.47" lengthAdjust="spacingAndGlyphs">0.83</text>
<text x="507.15" y="287.76" font-size="6.27" text-anchor="middle" fill="#ffffff" stroke="#ffffff" stroke-width="0.04" textLength="12.47" lengthAdjust="spacingAndGlyphs">0.83</text>
<text x="526.45" y="287.76" font-size="6.27" text-anchor="middle" fill="#ffffff" stroke="#ffffff" stroke-width="0.04" textLength="12.47" lengthAdjust="spacingAndGlyphs">0.89</text>
<text x="545.75" y="287.76" font-size="6.27" text-anchor="middle" fill="#ffffff" stroke="#ffffff" stroke-width="0.04" textLength="12.47" lengthAdjust="spacingAndGlyphs">0.88</text>
<text x="565.05" y="287.76" font-size="6.27" text-anchor="middle" fill="#ffffff" stroke="#ffffff" stroke-width="0.04" textLength="12.47" lengthAdjust="spacingAndGlyphs">0.79</text>
<text x="584.35" y="287.76" font-size="6.27" text-anchor="middle" fill="#262626" stroke="#262626" stroke-width="0.04" textLength="12.47" lengthAdjust="spacingAndGlyphs">0.70</text>
<text x="603.65" y="287.76" font-size="6.27" text-anchor="middle" fill="#262626" stroke="#262626" stroke-width="0.04" textLength="12.47" lengthAdjust="spacingAndGlyphs">0.74</text>
<text x="468.55" y="307.05" font-size="6.27" text-anchor="middle" fill="#262626" stroke="#262626" stroke-width="0.04" textLength="12.47" lengthAdjust="spacingAndGlyphs">0.73</text>
<text x="487.85" y="307.05" font-size="6.27" text-anchor="middle" fill="#ffffff" stroke="#ffffff" stroke-width="0.04" textLength="12.47" lengthAdjust="spacingAndGlyphs">0.80</text>
<text x="507.15" y="307.05" font-size="6.27" text-anchor="middle" fill="#ffffff" stroke="#ffffff" stroke-width="0.04" textLength="12.47" lengthAdjust="spacingAndGlyphs">0.80</text>
<text x="526.45" y="307.05" font-size="6.27" text-anchor="middle" fill="#ffffff" stroke="#ffffff" stroke-width="0.04" textLength="12.47" lengthAdjust="spacingAndGlyphs">0.84</text>
<text x="545.75" y="307.05" font-size="6.27" text-anchor="middle" fill="#ffffff" stroke="#ffffff" stroke-width="0.04" textLength="12.47" lengthAdjust="spacingAndGlyphs">0.92</text>
<text x="565.05" y="307.05" font-size="6.27" text-anchor="middle" fill="#ffffff" stroke="#ffffff" stroke-width="0.04" textLength="12.47" lengthAdjust="spacingAndGlyphs">0.79</text>
<text x="584.35" y="307.05" font-size="6.27" text-anchor="middle" fill="#262626" stroke="#262626" stroke-width="0.04" textLength="12.47" lengthAdjust="spacingAndGlyphs">0.68</text>
<text x="603.65" y="307.05" font-size="6.27" text-anchor="middle" fill="#262626" stroke="#262626" stroke-width="0.04" textLength="12.47" lengthAdjust="spacingAndGlyphs">0.67</text>
<text x="468.55" y="326.33" font-size="6.27" text-anchor="middle" fill="#ffffff" stroke="#ffffff" stroke-width="0.04" textLength="12.47" lengthAdjust="spacingAndGlyphs">0.77</text>
<text x="487.85" y="326.33" font-size="6.27" text-anchor="middle" fill="#ffffff" stroke="#ffffff" stroke-width="0.04" textLength="12.47" lengthAdjust="spacingAndGlyphs">0.81</text>
<text x="507.15" y="326.33" font-size="6.27" text-anchor="middle" fill="#ffffff" stroke="#ffffff" stroke-width="0.04" textLength="12.47" lengthAdjust="spacingAndGlyphs">0.81</text>
<text x="526.45" y="326.33" font-size="6.27" text-anchor="middle" fill="#ffffff" stroke="#ffffff" stroke-width="0.04" textLength="12.47" lengthAdjust="spacingAndGlyphs">0.82</text>
<text x="545.75" y="326.33" font-size="6.27" text-anchor="middle" fill="#ffffff" stroke="#ffffff" stroke-width="0.04" textLength="12.47" lengthAdjust="spacingAndGlyphs">0.83</text>
<text x="565.05" y="326.33" font-size="6.27" text-anchor="middle" fill="#ffffff" stroke="#ffffff" stroke-width="0.04" textLength="12.47" lengthAdjust="spacingAndGlyphs">0.87</text>
<text x="584.35" y="326.33" font-size="6.27" text-anchor="middle" fill="#262626" stroke="#262626" stroke-width="0.04" textLength="12.47" lengthAdjust="spacingAndGlyphs">0.66</text>
<text x="603.65" y="326.33" font-size="6.27" text-anchor="middle" fill="#262626" stroke="#262626" stroke-width="0.04" textLength="12.47" lengthAdjust="spacingAndGlyphs">0.72</text>
<text x="468.55" y="345.62" font-size="6.27" text-anchor="middle" fill="#262626" stroke="#262626" stroke-width="0.04" textLength="12.47" lengthAdjust="spacingAndGlyphs">0.65</text>
<text x="487.85" y="345.62" font-size="6.27" text-anchor="middle" fill="#262626" stroke="#262626" stroke-width="0.04" textLength="12.47" lengthAdjust="spacingAndGlyphs">0.67</text>
<text x="507.15" y="345.62" font-size="6.27" text-anchor="middle" fill="#262626" stroke="#262626" stroke-width="0.04" textLength="12.47" lengthAdjust="spacingAndGlyphs">0.68</text>
<text x="526.45" y="345.62" font-size="6.27" text-anchor="middle" fill="#262626" stroke="#262626" stroke-width="0.04" textLength="12.47" lengthAdjust="spacingAndGlyphs">0.66</text>
<text x="545.75" y="345.62" font-size="6.27" text-anchor="middle" fill="#262626" stroke="#262626" stroke-width="0.04" textLength="12.47" lengthAdjust="spacingAndGlyphs">0.67</text>
<text x="565.05" y="345.62" font-size="6.27" text-anchor="middle" fill="#262626" stroke="#262626" stroke-width="0.04" textLength="12.47" lengthAdjust="spacingAndGlyphs">0.65</text>
<text x="584.35" y="345.62" font-size="6.27" text-anchor="middle" fill="#ffffff" stroke="#ffffff" stroke-width="0.04" textLength="12.47" lengthAdjust="spacingAndGlyphs">0.79</text>
<text x="603.65" y="345.62" font-size="6.27" text-anchor="middle" fill="#262626" stroke="#262626" stroke-width="0.04" textLength="12.47" lengthAdjust="spacingAndGlyphs">0.70</text>
<text x="468.55" y="364.90" font-size="6.27" text-anchor="middle" fill="#262626" stroke="#262626" stroke-width="0.04" textLength="12.47" lengthAdjust="spacingAndGlyphs">0.69</text>
<text x="487.85" y="364.90" font-size="6.27" text-anchor="middle" fill="#262626" stroke="#262626" stroke-width="0.04" textLength="12.47" lengthAdjust="spacingAndGlyphs">0.70</text>
<text x="507.15" y="364.90" font-size="6.27" text-anchor="middle" fill="#262626" stroke="#262626" stroke-width="0.04" textLength="12.47" lengthAdjust="spacingAndGlyphs">0.67</text>
<text x="526.45" y="364.90" font-size="6.27" text-anchor="middle" fill="#262626" stroke="#262626" stroke-width="0.04" textLength="12.47" lengthAdjust="spacingAndGlyphs">0.71</text>
<text x="545.75" y="364.90" font-size="6.27" text-anchor="middle" fill="#262626" stroke="#262626" stroke-width="0.04" textLength="12.47" lengthAdjust="spacingAndGlyphs">0.59</text>
<text x="565.05" y="364.90" font-size="6.27" text-anchor="middle" fill="#262626" stroke="#262626" stroke-width="0.04" textLength="12.47" lengthAdjust="spacingAndGlyphs">0.61</text>
<text x="584.35" y="364.90" font-size="6.27" text-anchor="middle" fill="#262626" stroke="#262626" stroke-width="0.04" textLength="12.47" lengthAdjust="spacingAndGlyphs">0.72</text>
<text x="603.65" y="364.90" font-size="6.27" text-anchor="middle" fill="#ffffff" stroke="#ffffff" stroke-width="0.04" textLength="12.47" lengthAdjust="spacingAndGlyphs">0.88</text>
<text x="468.55" y="380.90" font-size="6.16" text-anchor="middle" fill="#262626" textLength="11.42" lengthAdjust="spacingAndGlyphs">eicu</text>
<line x1="468.55" y1="372.30" x2="468.55" y2="374.50" stroke="#262626" stroke-width="0.8"/>
<text x="487.85" y="380.90" font-size="6.16" text-anchor="middle" fill="#262626" textLength="11.67" lengthAdjust="spacingAndGlyphs">miiv</text>
<line x1="487.85" y1="372.30" x2="487.85" y2="374.50" stroke="#262626" stroke-width="0.8"/>
<text x="507.15" y="380.90" font-size="6.16" text-anchor="middle" fill="#262626" textLength="16.80" lengthAdjust="spacingAndGlyphs">mimic</text>
<line x1="507.15" y1="372.30" x2="507.15" y2="374.50" stroke="#262626" stroke-width="0.8"/>
<text x="526.45" y="380.90" font-size="6.16" text-anchor="middle" fill="#262626" textLength="12.29" lengthAdjust="spacingAndGlyphs">hirid</text>
<line x1="526.45" y1="372.30" x2="526.45" y2="374.50" stroke="#262626" stroke-width="0.8"/>
<text x="545.75" y="380.90" font-size="6.16" text-anchor="middle" fill="#262626" textLength="15.24" lengthAdjust="spacingAndGlyphs">aumc</text>
<line x1="545.75" y1="372.30" x2="545.75" y2="374.50" stroke="#262626" stroke-width="0.8"/>
<text x="565.05" y="380.90" font-size="6.16" text-anchor="middle" fill="#262626" textLength="7.42" lengthAdjust="spacingAndGlyphs">sic</text>
<line x1="565.05" y1="372.30" x2="565.05" y2="374.50" stroke="#262626" stroke-width="0.8"/>
<text x="584.35" y="380.90" font-size="6.16" text-anchor="middle" fill="#262626" textLength="15.03" lengthAdjust="spacingAndGlyphs">picdb</text>
<line x1="584.35" y1="372.30" x2="584.35" y2="374.50" stroke="#262626" stroke-width="0.8"/>
<text x="603.65" y="380.90" font-size="6.16" text-anchor="middle" fill="#262626" textLength="18.25" lengthAdjust="spacingAndGlyphs">zigong</text>
<line x1="603.65" y1="372.30" x2="603.65" y2="374.50" stroke="#262626" stroke-width="0.8"/>
<text x="453.50" y="246.94" font-size="6.16" text-anchor="middle" fill="#262626" transform="rotate(-90 453.50 246.94)" textLength="11.42" lengthAdjust="spacingAndGlyphs">eicu</text>
<line x1="456.70" y1="246.94" x2="458.90" y2="246.94" stroke="#262626" stroke-width="0.8"/>
<text x="453.50" y="266.23" font-size="6.16" text-anchor="middle" fill="#262626" transform="rotate(-90 453.50 266.23)" textLength="11.67" lengthAdjust="spacingAndGlyphs">miiv</text>
<line x1="456.70" y1="266.23" x2="458.90" y2="266.23" stroke="#262626" stroke-width="0.8"/>
<text x="453.50" y="285.51" font-size="6.16" text-anchor="middle" fill="#262626" transform="rotate(-90 453.50 285.51)" textLength="12.29" lengthAdjust="spacingAndGlyphs">hirid</text>
<line x1="456.70" y1="285.51" x2="458.90" y2="285.51" stroke="#262626" stroke-width="0.8"/>
<text x="453.50" y="304.80" font-size="6.16" text-anchor="middle" fill="#262626" transform="rotate(-90 453.50 304.80)" textLength="15.24" lengthAdjust="spacingAndGlyphs">aumc</text>
<line x1="456.70" y1="304.80" x2="458.90" y2="304.80" stroke="#262626" stroke-width="0.8"/>
<text x="453.50" y="324.09" font-size="6.16" text-anchor="middle" fill="#262626" transform="rotate(-90 453.50 324.09)" textLength="7.42" lengthAdjust="spacingAndGlyphs">sic</text>
<line x1="456.70" y1="324.09" x2="458.90" y2="324.09" stroke="#262626" stroke-width="0.8"/>
<text x="453.50" y="343.37" font-size="6.16" text-anchor="middle" fill="#262626" transform="rotate(-90 453.50 343.37)" textLength="15.03" lengthAdjust="spacingAndGlyphs">picdb</text>
<line x1="456.70" y1="343.37" x2="458.90" y2="343.37" stroke="#262626" stroke-width="0.8"/>
<text x="453.50" y="362.66" font-size="6.16" text-anchor="middle" fill="#262626" transform="rotate(-90 453.50 362.66)" textLength="18.25" lengthAdjust="spacingAndGlyphs">zigong</text>
<line x1="456.70" y1="362.66" x2="458.90" y2="362.66" stroke="#262626" stroke-width="0.8"/>
<text x="536.10" y="388.40" font-size="6.16" text-anchor="middle" fill="#262626" textLength="17.02" lengthAdjust="spacingAndGlyphs">Target</text>
<text x="446.90" y="304.80" font-size="6.16" text-anchor="middle" fill="#262626" transform="rotate(-90 446.90 304.80)" textLength="18.89" lengthAdjust="spacingAndGlyphs">Source</text>
<text x="536.10" y="234.00" font-size="7.43" text-anchor="middle" fill="#1a1a1a" textLength="105.40" lengthAdjust="spacingAndGlyphs">Average Transfer (AuROC): GRU</text>
<text x="202.45" y="8.70" font-size="8.39" text-anchor="middle" fill="#1a1a1a" textLength="175.11" lengthAdjust="spacingAndGlyphs">Single-Dataset Transfer (AuROC): LGBM (Feat.)</text>
<g font-family='"Liberation Serif", serif' fill="#000">
<text x="202.30" y="425.00" font-size="15.80" text-anchor="middle" fill="#000">(a) LGBM (Feat.) task-wise</text>
<text x="532.30" y="196.90" font-size="15.80" text-anchor="middle" fill="#000">(b) LGBM (Feat.) task-average</text>
<text x="533.45" y="427.20" font-size="15.80" text-anchor="middle" fill="#000">(c) GRU task-average</text>
<text x="1.00" y="456.50" font-size="16.60" text-anchor="start" fill="#000" word-spacing="2.4">Figure 2: Single-center transfer performance heatmaps (AUROC). Figure 2a shows separate h</text>
</g>
</svg>
</body></html>
